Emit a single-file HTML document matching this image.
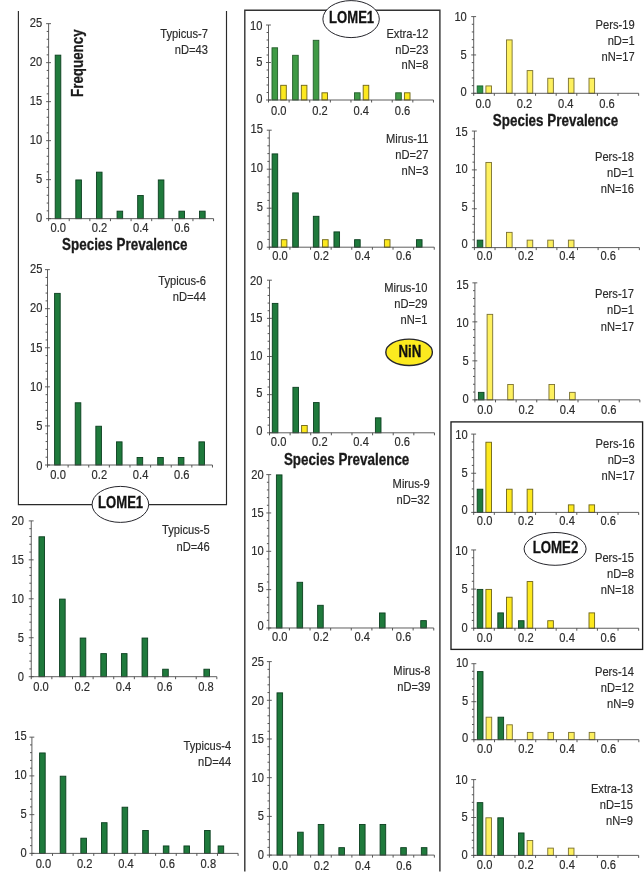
<!DOCTYPE html>
<html lang="en"><head><meta charset="utf-8"><title>Species prevalence histograms</title>
<style>
html,body{margin:0;padding:0;background:#fff}
body{width:644px;height:883px;overflow:hidden}
svg{display:block;font-family:"Liberation Sans",Arial,Helvetica,sans-serif}
</style></head><body>
<svg width="644" height="883" viewBox="0 0 644 883">
<rect width="644" height="883" fill="#fff"/>
<g transform="translate(0,0.4)">
<path d="M18.4 10.6V504.3H226.5V10.6" fill="none" stroke="#2a2a2a" stroke-width="1.15"/>
<path d="M244.8 871V9.9H439.9V871" fill="none" stroke="#333" stroke-width="1.4"/>
<rect x="451" y="421.5" width="191.6" height="227.5" fill="none" stroke="#1e1e1e" stroke-width="1.35"/>
<g>
<rect x="55.20" y="54.75" width="5.60" height="163.50" fill="#1f7a3c" stroke="#0b3f1f" stroke-width="0.9"/>
<rect x="75.82" y="179.55" width="5.60" height="38.70" fill="#1f7a3c" stroke="#0b3f1f" stroke-width="0.9"/>
<rect x="96.44" y="171.75" width="5.60" height="46.50" fill="#1f7a3c" stroke="#0b3f1f" stroke-width="0.9"/>
<rect x="117.06" y="210.75" width="5.60" height="7.50" fill="#1f7a3c" stroke="#0b3f1f" stroke-width="0.9"/>
<rect x="137.68" y="195.15" width="5.60" height="23.10" fill="#1f7a3c" stroke="#0b3f1f" stroke-width="0.9"/>
<rect x="158.30" y="179.55" width="5.60" height="38.70" fill="#1f7a3c" stroke="#0b3f1f" stroke-width="0.9"/>
<rect x="178.92" y="210.75" width="5.60" height="7.50" fill="#1f7a3c" stroke="#0b3f1f" stroke-width="0.9"/>
<rect x="199.54" y="210.75" width="5.60" height="7.50" fill="#1f7a3c" stroke="#0b3f1f" stroke-width="0.9"/>
<line x1="48.60" y1="23.25" x2="48.60" y2="218.70" stroke="#4d4d4d" stroke-width="0.9"/>
<line x1="48.15" y1="218.25" x2="213.56" y2="218.25" stroke="#4d4d4d" stroke-width="0.9"/>
<line x1="46.10" y1="218.25" x2="51.00" y2="218.25" stroke="#4d4d4d" stroke-width="0.9"/>
<text transform="translate(42.20,221.90) scale(0.82,1)" text-anchor="end" font-size="13.6" stroke="#2b2b2b" stroke-width="0.18" fill="#2b2b2b">0</text>
<line x1="46.70" y1="210.45" x2="48.60" y2="210.45" stroke="#4d4d4d" stroke-width="0.95"/>
<line x1="46.70" y1="202.65" x2="48.60" y2="202.65" stroke="#4d4d4d" stroke-width="0.95"/>
<line x1="46.70" y1="194.85" x2="48.60" y2="194.85" stroke="#4d4d4d" stroke-width="0.95"/>
<line x1="46.70" y1="187.05" x2="48.60" y2="187.05" stroke="#4d4d4d" stroke-width="0.95"/>
<line x1="46.10" y1="179.25" x2="51.00" y2="179.25" stroke="#4d4d4d" stroke-width="0.9"/>
<text transform="translate(42.20,182.84) scale(0.82,1)" text-anchor="end" font-size="13.6" stroke="#2b2b2b" stroke-width="0.18" fill="#2b2b2b">5</text>
<line x1="46.70" y1="171.45" x2="48.60" y2="171.45" stroke="#4d4d4d" stroke-width="0.95"/>
<line x1="46.70" y1="163.65" x2="48.60" y2="163.65" stroke="#4d4d4d" stroke-width="0.95"/>
<line x1="46.70" y1="155.85" x2="48.60" y2="155.85" stroke="#4d4d4d" stroke-width="0.95"/>
<line x1="46.70" y1="148.05" x2="48.60" y2="148.05" stroke="#4d4d4d" stroke-width="0.95"/>
<line x1="46.10" y1="140.25" x2="51.00" y2="140.25" stroke="#4d4d4d" stroke-width="0.9"/>
<text transform="translate(42.20,143.78) scale(0.82,1)" text-anchor="end" font-size="13.6" stroke="#2b2b2b" stroke-width="0.18" fill="#2b2b2b">10</text>
<line x1="46.70" y1="132.45" x2="48.60" y2="132.45" stroke="#4d4d4d" stroke-width="0.95"/>
<line x1="46.70" y1="124.65" x2="48.60" y2="124.65" stroke="#4d4d4d" stroke-width="0.95"/>
<line x1="46.70" y1="116.85" x2="48.60" y2="116.85" stroke="#4d4d4d" stroke-width="0.95"/>
<line x1="46.70" y1="109.05" x2="48.60" y2="109.05" stroke="#4d4d4d" stroke-width="0.95"/>
<line x1="46.10" y1="101.25" x2="51.00" y2="101.25" stroke="#4d4d4d" stroke-width="0.9"/>
<text transform="translate(42.20,104.72) scale(0.82,1)" text-anchor="end" font-size="13.6" stroke="#2b2b2b" stroke-width="0.18" fill="#2b2b2b">15</text>
<line x1="46.70" y1="93.45" x2="48.60" y2="93.45" stroke="#4d4d4d" stroke-width="0.95"/>
<line x1="46.70" y1="85.65" x2="48.60" y2="85.65" stroke="#4d4d4d" stroke-width="0.95"/>
<line x1="46.70" y1="77.85" x2="48.60" y2="77.85" stroke="#4d4d4d" stroke-width="0.95"/>
<line x1="46.70" y1="70.05" x2="48.60" y2="70.05" stroke="#4d4d4d" stroke-width="0.95"/>
<line x1="46.10" y1="62.25" x2="51.00" y2="62.25" stroke="#4d4d4d" stroke-width="0.9"/>
<text transform="translate(42.20,65.66) scale(0.82,1)" text-anchor="end" font-size="13.6" stroke="#2b2b2b" stroke-width="0.18" fill="#2b2b2b">20</text>
<line x1="46.70" y1="54.45" x2="48.60" y2="54.45" stroke="#4d4d4d" stroke-width="0.95"/>
<line x1="46.70" y1="46.65" x2="48.60" y2="46.65" stroke="#4d4d4d" stroke-width="0.95"/>
<line x1="46.70" y1="38.85" x2="48.60" y2="38.85" stroke="#4d4d4d" stroke-width="0.95"/>
<line x1="46.70" y1="31.05" x2="48.60" y2="31.05" stroke="#4d4d4d" stroke-width="0.95"/>
<line x1="46.10" y1="23.25" x2="51.00" y2="23.25" stroke="#4d4d4d" stroke-width="0.9"/>
<text transform="translate(42.20,26.60) scale(0.82,1)" text-anchor="end" font-size="13.6" stroke="#2b2b2b" stroke-width="0.18" fill="#2b2b2b">25</text>
<line x1="48.60" y1="218.25" x2="48.60" y2="220.75" stroke="#4d4d4d" stroke-width="0.95"/>
<line x1="69.22" y1="218.25" x2="69.22" y2="220.75" stroke="#4d4d4d" stroke-width="0.95"/>
<line x1="89.84" y1="218.25" x2="89.84" y2="220.75" stroke="#4d4d4d" stroke-width="0.95"/>
<line x1="110.46" y1="218.25" x2="110.46" y2="220.75" stroke="#4d4d4d" stroke-width="0.95"/>
<line x1="131.08" y1="218.25" x2="131.08" y2="220.75" stroke="#4d4d4d" stroke-width="0.95"/>
<line x1="151.70" y1="218.25" x2="151.70" y2="220.75" stroke="#4d4d4d" stroke-width="0.95"/>
<line x1="172.32" y1="218.25" x2="172.32" y2="220.75" stroke="#4d4d4d" stroke-width="0.95"/>
<line x1="192.94" y1="218.25" x2="192.94" y2="220.75" stroke="#4d4d4d" stroke-width="0.95"/>
<line x1="213.56" y1="218.25" x2="213.56" y2="220.75" stroke="#4d4d4d" stroke-width="0.95"/>
<text transform="translate(58.21,231.35) scale(0.82,1)" text-anchor="middle" font-size="13.6" stroke="#2b2b2b" stroke-width="0.18" fill="#2b2b2b">0.0</text>
<text transform="translate(99.45,231.35) scale(0.82,1)" text-anchor="middle" font-size="13.6" stroke="#2b2b2b" stroke-width="0.18" fill="#2b2b2b">0.2</text>
<text transform="translate(140.69,231.35) scale(0.82,1)" text-anchor="middle" font-size="13.6" stroke="#2b2b2b" stroke-width="0.18" fill="#2b2b2b">0.4</text>
<text transform="translate(181.93,231.35) scale(0.82,1)" text-anchor="middle" font-size="13.6" stroke="#2b2b2b" stroke-width="0.18" fill="#2b2b2b">0.6</text>
<text transform="translate(208.00,37.20) scale(0.82,1)" text-anchor="end" font-size="13.6" stroke="#2b2b2b" stroke-width="0.18" fill="#2b2b2b">Typicus-7</text>
<text transform="translate(208.00,53.45) scale(0.82,1)" text-anchor="end" font-size="13.6" stroke="#2b2b2b" stroke-width="0.18" fill="#2b2b2b">nD=43</text>
</g>
<g>
<rect x="54.60" y="292.97" width="5.60" height="171.63" fill="#1f7a3c" stroke="#0b3f1f" stroke-width="0.9"/>
<rect x="75.22" y="402.38" width="5.60" height="62.22" fill="#1f7a3c" stroke="#0b3f1f" stroke-width="0.9"/>
<rect x="95.84" y="425.83" width="5.60" height="38.77" fill="#1f7a3c" stroke="#0b3f1f" stroke-width="0.9"/>
<rect x="116.46" y="441.46" width="5.60" height="23.14" fill="#1f7a3c" stroke="#0b3f1f" stroke-width="0.9"/>
<rect x="137.08" y="457.09" width="5.60" height="7.51" fill="#1f7a3c" stroke="#0b3f1f" stroke-width="0.9"/>
<rect x="157.70" y="457.09" width="5.60" height="7.51" fill="#1f7a3c" stroke="#0b3f1f" stroke-width="0.9"/>
<rect x="178.32" y="457.09" width="5.60" height="7.51" fill="#1f7a3c" stroke="#0b3f1f" stroke-width="0.9"/>
<rect x="198.94" y="441.46" width="5.60" height="23.14" fill="#1f7a3c" stroke="#0b3f1f" stroke-width="0.9"/>
<line x1="47.50" y1="269.23" x2="47.50" y2="465.05" stroke="#4d4d4d" stroke-width="0.9"/>
<line x1="47.05" y1="464.60" x2="212.46" y2="464.60" stroke="#4d4d4d" stroke-width="0.9"/>
<line x1="45.00" y1="464.60" x2="49.90" y2="464.60" stroke="#4d4d4d" stroke-width="0.9"/>
<text transform="translate(42.50,469.45) scale(0.82,1)" text-anchor="end" font-size="13.6" stroke="#2b2b2b" stroke-width="0.18" fill="#2b2b2b">0</text>
<line x1="45.60" y1="456.79" x2="47.50" y2="456.79" stroke="#4d4d4d" stroke-width="0.95"/>
<line x1="45.60" y1="448.97" x2="47.50" y2="448.97" stroke="#4d4d4d" stroke-width="0.95"/>
<line x1="45.60" y1="441.16" x2="47.50" y2="441.16" stroke="#4d4d4d" stroke-width="0.95"/>
<line x1="45.60" y1="433.34" x2="47.50" y2="433.34" stroke="#4d4d4d" stroke-width="0.95"/>
<line x1="45.00" y1="425.53" x2="49.90" y2="425.53" stroke="#4d4d4d" stroke-width="0.9"/>
<text transform="translate(42.50,430.06) scale(0.82,1)" text-anchor="end" font-size="13.6" stroke="#2b2b2b" stroke-width="0.18" fill="#2b2b2b">5</text>
<line x1="45.60" y1="417.71" x2="47.50" y2="417.71" stroke="#4d4d4d" stroke-width="0.95"/>
<line x1="45.60" y1="409.90" x2="47.50" y2="409.90" stroke="#4d4d4d" stroke-width="0.95"/>
<line x1="45.60" y1="402.08" x2="47.50" y2="402.08" stroke="#4d4d4d" stroke-width="0.95"/>
<line x1="45.60" y1="394.26" x2="47.50" y2="394.26" stroke="#4d4d4d" stroke-width="0.95"/>
<line x1="45.00" y1="386.45" x2="49.90" y2="386.45" stroke="#4d4d4d" stroke-width="0.9"/>
<text transform="translate(42.50,390.66) scale(0.82,1)" text-anchor="end" font-size="13.6" stroke="#2b2b2b" stroke-width="0.18" fill="#2b2b2b">10</text>
<line x1="45.60" y1="378.63" x2="47.50" y2="378.63" stroke="#4d4d4d" stroke-width="0.95"/>
<line x1="45.60" y1="370.82" x2="47.50" y2="370.82" stroke="#4d4d4d" stroke-width="0.95"/>
<line x1="45.60" y1="363.00" x2="47.50" y2="363.00" stroke="#4d4d4d" stroke-width="0.95"/>
<line x1="45.60" y1="355.19" x2="47.50" y2="355.19" stroke="#4d4d4d" stroke-width="0.95"/>
<line x1="45.00" y1="347.38" x2="49.90" y2="347.38" stroke="#4d4d4d" stroke-width="0.9"/>
<text transform="translate(42.50,351.27) scale(0.82,1)" text-anchor="end" font-size="13.6" stroke="#2b2b2b" stroke-width="0.18" fill="#2b2b2b">15</text>
<line x1="45.60" y1="339.56" x2="47.50" y2="339.56" stroke="#4d4d4d" stroke-width="0.95"/>
<line x1="45.60" y1="331.75" x2="47.50" y2="331.75" stroke="#4d4d4d" stroke-width="0.95"/>
<line x1="45.60" y1="323.93" x2="47.50" y2="323.93" stroke="#4d4d4d" stroke-width="0.95"/>
<line x1="45.60" y1="316.12" x2="47.50" y2="316.12" stroke="#4d4d4d" stroke-width="0.95"/>
<line x1="45.00" y1="308.30" x2="49.90" y2="308.30" stroke="#4d4d4d" stroke-width="0.9"/>
<text transform="translate(42.50,311.87) scale(0.82,1)" text-anchor="end" font-size="13.6" stroke="#2b2b2b" stroke-width="0.18" fill="#2b2b2b">20</text>
<line x1="45.60" y1="300.49" x2="47.50" y2="300.49" stroke="#4d4d4d" stroke-width="0.95"/>
<line x1="45.60" y1="292.67" x2="47.50" y2="292.67" stroke="#4d4d4d" stroke-width="0.95"/>
<line x1="45.60" y1="284.86" x2="47.50" y2="284.86" stroke="#4d4d4d" stroke-width="0.95"/>
<line x1="45.60" y1="277.04" x2="47.50" y2="277.04" stroke="#4d4d4d" stroke-width="0.95"/>
<line x1="45.00" y1="269.23" x2="49.90" y2="269.23" stroke="#4d4d4d" stroke-width="0.9"/>
<text transform="translate(42.50,272.48) scale(0.82,1)" text-anchor="end" font-size="13.6" stroke="#2b2b2b" stroke-width="0.18" fill="#2b2b2b">25</text>
<line x1="47.50" y1="464.60" x2="47.50" y2="467.10" stroke="#4d4d4d" stroke-width="0.95"/>
<line x1="68.12" y1="464.60" x2="68.12" y2="467.10" stroke="#4d4d4d" stroke-width="0.95"/>
<line x1="88.74" y1="464.60" x2="88.74" y2="467.10" stroke="#4d4d4d" stroke-width="0.95"/>
<line x1="109.36" y1="464.60" x2="109.36" y2="467.10" stroke="#4d4d4d" stroke-width="0.95"/>
<line x1="129.98" y1="464.60" x2="129.98" y2="467.10" stroke="#4d4d4d" stroke-width="0.95"/>
<line x1="150.60" y1="464.60" x2="150.60" y2="467.10" stroke="#4d4d4d" stroke-width="0.95"/>
<line x1="171.22" y1="464.60" x2="171.22" y2="467.10" stroke="#4d4d4d" stroke-width="0.95"/>
<line x1="191.84" y1="464.60" x2="191.84" y2="467.10" stroke="#4d4d4d" stroke-width="0.95"/>
<line x1="212.46" y1="464.60" x2="212.46" y2="467.10" stroke="#4d4d4d" stroke-width="0.95"/>
<text transform="translate(58.11,478.20) scale(0.82,1)" text-anchor="middle" font-size="13.6" stroke="#2b2b2b" stroke-width="0.18" fill="#2b2b2b">0.0</text>
<text transform="translate(99.35,478.20) scale(0.82,1)" text-anchor="middle" font-size="13.6" stroke="#2b2b2b" stroke-width="0.18" fill="#2b2b2b">0.2</text>
<text transform="translate(140.59,478.20) scale(0.82,1)" text-anchor="middle" font-size="13.6" stroke="#2b2b2b" stroke-width="0.18" fill="#2b2b2b">0.4</text>
<text transform="translate(181.83,478.20) scale(0.82,1)" text-anchor="middle" font-size="13.6" stroke="#2b2b2b" stroke-width="0.18" fill="#2b2b2b">0.6</text>
<text transform="translate(206.00,284.45) scale(0.82,1)" text-anchor="end" font-size="13.6" stroke="#2b2b2b" stroke-width="0.18" fill="#2b2b2b">Typicus-6</text>
<text transform="translate(206.00,300.20) scale(0.82,1)" text-anchor="end" font-size="13.6" stroke="#2b2b2b" stroke-width="0.18" fill="#2b2b2b">nD=44</text>
</g>
<g>
<rect x="38.95" y="536.38" width="5.60" height="139.92" fill="#1f7a3c" stroke="#0b3f1f" stroke-width="0.9"/>
<rect x="59.57" y="598.70" width="5.60" height="77.60" fill="#1f7a3c" stroke="#0b3f1f" stroke-width="0.9"/>
<rect x="80.19" y="637.65" width="5.60" height="38.65" fill="#1f7a3c" stroke="#0b3f1f" stroke-width="0.9"/>
<rect x="100.81" y="653.23" width="5.60" height="23.07" fill="#1f7a3c" stroke="#0b3f1f" stroke-width="0.9"/>
<rect x="121.43" y="653.23" width="5.60" height="23.07" fill="#1f7a3c" stroke="#0b3f1f" stroke-width="0.9"/>
<rect x="142.05" y="637.65" width="5.60" height="38.65" fill="#1f7a3c" stroke="#0b3f1f" stroke-width="0.9"/>
<rect x="162.67" y="668.81" width="5.60" height="7.49" fill="#1f7a3c" stroke="#0b3f1f" stroke-width="0.9"/>
<rect x="203.91" y="668.81" width="5.60" height="7.49" fill="#1f7a3c" stroke="#0b3f1f" stroke-width="0.9"/>
<line x1="31.25" y1="520.50" x2="31.25" y2="676.75" stroke="#4d4d4d" stroke-width="0.9"/>
<line x1="30.80" y1="676.30" x2="216.83" y2="676.30" stroke="#4d4d4d" stroke-width="0.9"/>
<line x1="28.75" y1="676.30" x2="33.65" y2="676.30" stroke="#4d4d4d" stroke-width="0.9"/>
<text transform="translate(23.95,680.35) scale(0.82,1)" text-anchor="end" font-size="13.6" stroke="#2b2b2b" stroke-width="0.18" fill="#2b2b2b">0</text>
<line x1="29.35" y1="668.51" x2="31.25" y2="668.51" stroke="#4d4d4d" stroke-width="0.95"/>
<line x1="29.35" y1="660.72" x2="31.25" y2="660.72" stroke="#4d4d4d" stroke-width="0.95"/>
<line x1="29.35" y1="652.93" x2="31.25" y2="652.93" stroke="#4d4d4d" stroke-width="0.95"/>
<line x1="29.35" y1="645.14" x2="31.25" y2="645.14" stroke="#4d4d4d" stroke-width="0.95"/>
<line x1="28.75" y1="637.35" x2="33.65" y2="637.35" stroke="#4d4d4d" stroke-width="0.9"/>
<text transform="translate(23.95,641.40) scale(0.82,1)" text-anchor="end" font-size="13.6" stroke="#2b2b2b" stroke-width="0.18" fill="#2b2b2b">5</text>
<line x1="29.35" y1="629.56" x2="31.25" y2="629.56" stroke="#4d4d4d" stroke-width="0.95"/>
<line x1="29.35" y1="621.77" x2="31.25" y2="621.77" stroke="#4d4d4d" stroke-width="0.95"/>
<line x1="29.35" y1="613.98" x2="31.25" y2="613.98" stroke="#4d4d4d" stroke-width="0.95"/>
<line x1="29.35" y1="606.19" x2="31.25" y2="606.19" stroke="#4d4d4d" stroke-width="0.95"/>
<line x1="28.75" y1="598.40" x2="33.65" y2="598.40" stroke="#4d4d4d" stroke-width="0.9"/>
<text transform="translate(23.95,602.45) scale(0.82,1)" text-anchor="end" font-size="13.6" stroke="#2b2b2b" stroke-width="0.18" fill="#2b2b2b">10</text>
<line x1="29.35" y1="590.61" x2="31.25" y2="590.61" stroke="#4d4d4d" stroke-width="0.95"/>
<line x1="29.35" y1="582.82" x2="31.25" y2="582.82" stroke="#4d4d4d" stroke-width="0.95"/>
<line x1="29.35" y1="575.03" x2="31.25" y2="575.03" stroke="#4d4d4d" stroke-width="0.95"/>
<line x1="29.35" y1="567.24" x2="31.25" y2="567.24" stroke="#4d4d4d" stroke-width="0.95"/>
<line x1="28.75" y1="559.45" x2="33.65" y2="559.45" stroke="#4d4d4d" stroke-width="0.9"/>
<text transform="translate(23.95,563.50) scale(0.82,1)" text-anchor="end" font-size="13.6" stroke="#2b2b2b" stroke-width="0.18" fill="#2b2b2b">15</text>
<line x1="29.35" y1="551.66" x2="31.25" y2="551.66" stroke="#4d4d4d" stroke-width="0.95"/>
<line x1="29.35" y1="543.87" x2="31.25" y2="543.87" stroke="#4d4d4d" stroke-width="0.95"/>
<line x1="29.35" y1="536.08" x2="31.25" y2="536.08" stroke="#4d4d4d" stroke-width="0.95"/>
<line x1="29.35" y1="528.29" x2="31.25" y2="528.29" stroke="#4d4d4d" stroke-width="0.95"/>
<line x1="28.75" y1="520.50" x2="33.65" y2="520.50" stroke="#4d4d4d" stroke-width="0.9"/>
<text transform="translate(23.95,524.55) scale(0.82,1)" text-anchor="end" font-size="13.6" stroke="#2b2b2b" stroke-width="0.18" fill="#2b2b2b">20</text>
<line x1="31.25" y1="676.30" x2="31.25" y2="678.80" stroke="#4d4d4d" stroke-width="0.95"/>
<line x1="51.87" y1="676.30" x2="51.87" y2="678.80" stroke="#4d4d4d" stroke-width="0.95"/>
<line x1="72.49" y1="676.30" x2="72.49" y2="678.80" stroke="#4d4d4d" stroke-width="0.95"/>
<line x1="93.11" y1="676.30" x2="93.11" y2="678.80" stroke="#4d4d4d" stroke-width="0.95"/>
<line x1="113.73" y1="676.30" x2="113.73" y2="678.80" stroke="#4d4d4d" stroke-width="0.95"/>
<line x1="134.35" y1="676.30" x2="134.35" y2="678.80" stroke="#4d4d4d" stroke-width="0.95"/>
<line x1="154.97" y1="676.30" x2="154.97" y2="678.80" stroke="#4d4d4d" stroke-width="0.95"/>
<line x1="175.59" y1="676.30" x2="175.59" y2="678.80" stroke="#4d4d4d" stroke-width="0.95"/>
<line x1="196.21" y1="676.30" x2="196.21" y2="678.80" stroke="#4d4d4d" stroke-width="0.95"/>
<line x1="216.83" y1="676.30" x2="216.83" y2="678.80" stroke="#4d4d4d" stroke-width="0.95"/>
<text transform="translate(40.96,690.60) scale(0.82,1)" text-anchor="middle" font-size="13.6" stroke="#2b2b2b" stroke-width="0.18" fill="#2b2b2b">0.0</text>
<text transform="translate(82.20,690.60) scale(0.82,1)" text-anchor="middle" font-size="13.6" stroke="#2b2b2b" stroke-width="0.18" fill="#2b2b2b">0.2</text>
<text transform="translate(123.44,690.60) scale(0.82,1)" text-anchor="middle" font-size="13.6" stroke="#2b2b2b" stroke-width="0.18" fill="#2b2b2b">0.4</text>
<text transform="translate(164.68,690.60) scale(0.82,1)" text-anchor="middle" font-size="13.6" stroke="#2b2b2b" stroke-width="0.18" fill="#2b2b2b">0.6</text>
<text transform="translate(205.92,690.60) scale(0.82,1)" text-anchor="middle" font-size="13.6" stroke="#2b2b2b" stroke-width="0.18" fill="#2b2b2b">0.8</text>
<text transform="translate(209.75,533.95) scale(0.82,1)" text-anchor="end" font-size="13.6" stroke="#2b2b2b" stroke-width="0.18" fill="#2b2b2b">Typicus-5</text>
<text transform="translate(209.75,550.20) scale(0.82,1)" text-anchor="end" font-size="13.6" stroke="#2b2b2b" stroke-width="0.18" fill="#2b2b2b">nD=46</text>
</g>
<g>
<rect x="39.60" y="752.55" width="5.60" height="100.45" fill="#1f7a3c" stroke="#0b3f1f" stroke-width="0.9"/>
<rect x="60.22" y="775.80" width="5.60" height="77.20" fill="#1f7a3c" stroke="#0b3f1f" stroke-width="0.9"/>
<rect x="80.84" y="837.80" width="5.60" height="15.20" fill="#1f7a3c" stroke="#0b3f1f" stroke-width="0.9"/>
<rect x="101.46" y="822.30" width="5.60" height="30.70" fill="#1f7a3c" stroke="#0b3f1f" stroke-width="0.9"/>
<rect x="122.08" y="806.80" width="5.60" height="46.20" fill="#1f7a3c" stroke="#0b3f1f" stroke-width="0.9"/>
<rect x="142.70" y="830.05" width="5.60" height="22.95" fill="#1f7a3c" stroke="#0b3f1f" stroke-width="0.9"/>
<rect x="163.32" y="845.55" width="5.60" height="7.45" fill="#1f7a3c" stroke="#0b3f1f" stroke-width="0.9"/>
<rect x="183.94" y="845.55" width="5.60" height="7.45" fill="#1f7a3c" stroke="#0b3f1f" stroke-width="0.9"/>
<rect x="204.56" y="830.05" width="5.60" height="22.95" fill="#1f7a3c" stroke="#0b3f1f" stroke-width="0.9"/>
<rect x="218.10" y="845.55" width="5.60" height="7.45" fill="#1f7a3c" stroke="#0b3f1f" stroke-width="0.9"/>
<line x1="31.90" y1="736.75" x2="31.90" y2="853.45" stroke="#4d4d4d" stroke-width="0.9"/>
<line x1="31.45" y1="853.00" x2="238.10" y2="853.00" stroke="#4d4d4d" stroke-width="0.9"/>
<line x1="29.40" y1="853.00" x2="34.30" y2="853.00" stroke="#4d4d4d" stroke-width="0.9"/>
<text transform="translate(26.60,856.85) scale(0.82,1)" text-anchor="end" font-size="13.6" stroke="#2b2b2b" stroke-width="0.18" fill="#2b2b2b">0</text>
<line x1="30.00" y1="845.25" x2="31.90" y2="845.25" stroke="#4d4d4d" stroke-width="0.95"/>
<line x1="30.00" y1="837.50" x2="31.90" y2="837.50" stroke="#4d4d4d" stroke-width="0.95"/>
<line x1="30.00" y1="829.75" x2="31.90" y2="829.75" stroke="#4d4d4d" stroke-width="0.95"/>
<line x1="30.00" y1="822.00" x2="31.90" y2="822.00" stroke="#4d4d4d" stroke-width="0.95"/>
<line x1="29.40" y1="814.25" x2="34.30" y2="814.25" stroke="#4d4d4d" stroke-width="0.9"/>
<text transform="translate(26.60,817.77) scale(0.82,1)" text-anchor="end" font-size="13.6" stroke="#2b2b2b" stroke-width="0.18" fill="#2b2b2b">5</text>
<line x1="30.00" y1="806.50" x2="31.90" y2="806.50" stroke="#4d4d4d" stroke-width="0.95"/>
<line x1="30.00" y1="798.75" x2="31.90" y2="798.75" stroke="#4d4d4d" stroke-width="0.95"/>
<line x1="30.00" y1="791.00" x2="31.90" y2="791.00" stroke="#4d4d4d" stroke-width="0.95"/>
<line x1="30.00" y1="783.25" x2="31.90" y2="783.25" stroke="#4d4d4d" stroke-width="0.95"/>
<line x1="29.40" y1="775.50" x2="34.30" y2="775.50" stroke="#4d4d4d" stroke-width="0.9"/>
<text transform="translate(26.60,778.68) scale(0.82,1)" text-anchor="end" font-size="13.6" stroke="#2b2b2b" stroke-width="0.18" fill="#2b2b2b">10</text>
<line x1="30.00" y1="767.75" x2="31.90" y2="767.75" stroke="#4d4d4d" stroke-width="0.95"/>
<line x1="30.00" y1="760.00" x2="31.90" y2="760.00" stroke="#4d4d4d" stroke-width="0.95"/>
<line x1="30.00" y1="752.25" x2="31.90" y2="752.25" stroke="#4d4d4d" stroke-width="0.95"/>
<line x1="30.00" y1="744.50" x2="31.90" y2="744.50" stroke="#4d4d4d" stroke-width="0.95"/>
<line x1="29.40" y1="736.75" x2="34.30" y2="736.75" stroke="#4d4d4d" stroke-width="0.9"/>
<text transform="translate(26.60,739.60) scale(0.82,1)" text-anchor="end" font-size="13.6" stroke="#2b2b2b" stroke-width="0.18" fill="#2b2b2b">15</text>
<line x1="31.90" y1="853.00" x2="31.90" y2="855.50" stroke="#4d4d4d" stroke-width="0.95"/>
<line x1="52.52" y1="853.00" x2="52.52" y2="855.50" stroke="#4d4d4d" stroke-width="0.95"/>
<line x1="73.14" y1="853.00" x2="73.14" y2="855.50" stroke="#4d4d4d" stroke-width="0.95"/>
<line x1="93.76" y1="853.00" x2="93.76" y2="855.50" stroke="#4d4d4d" stroke-width="0.95"/>
<line x1="114.38" y1="853.00" x2="114.38" y2="855.50" stroke="#4d4d4d" stroke-width="0.95"/>
<line x1="135.00" y1="853.00" x2="135.00" y2="855.50" stroke="#4d4d4d" stroke-width="0.95"/>
<line x1="155.62" y1="853.00" x2="155.62" y2="855.50" stroke="#4d4d4d" stroke-width="0.95"/>
<line x1="176.24" y1="853.00" x2="176.24" y2="855.50" stroke="#4d4d4d" stroke-width="0.95"/>
<line x1="196.86" y1="853.00" x2="196.86" y2="855.50" stroke="#4d4d4d" stroke-width="0.95"/>
<line x1="217.48" y1="853.00" x2="217.48" y2="855.50" stroke="#4d4d4d" stroke-width="0.95"/>
<line x1="238.10" y1="853.00" x2="238.10" y2="855.50" stroke="#4d4d4d" stroke-width="0.95"/>
<text transform="translate(43.41,867.70) scale(0.82,1)" text-anchor="middle" font-size="13.6" stroke="#2b2b2b" stroke-width="0.18" fill="#2b2b2b">0.0</text>
<text transform="translate(84.65,867.70) scale(0.82,1)" text-anchor="middle" font-size="13.6" stroke="#2b2b2b" stroke-width="0.18" fill="#2b2b2b">0.2</text>
<text transform="translate(125.89,867.70) scale(0.82,1)" text-anchor="middle" font-size="13.6" stroke="#2b2b2b" stroke-width="0.18" fill="#2b2b2b">0.4</text>
<text transform="translate(167.13,867.70) scale(0.82,1)" text-anchor="middle" font-size="13.6" stroke="#2b2b2b" stroke-width="0.18" fill="#2b2b2b">0.6</text>
<text transform="translate(208.37,867.70) scale(0.82,1)" text-anchor="middle" font-size="13.6" stroke="#2b2b2b" stroke-width="0.18" fill="#2b2b2b">0.8</text>
<text transform="translate(231.25,749.45) scale(0.82,1)" text-anchor="end" font-size="13.6" stroke="#2b2b2b" stroke-width="0.18" fill="#2b2b2b">Typicus-4</text>
<text transform="translate(231.25,765.70) scale(0.82,1)" text-anchor="end" font-size="13.6" stroke="#2b2b2b" stroke-width="0.18" fill="#2b2b2b">nD=44</text>
</g>
<g>
<rect x="272.00" y="47.40" width="5.60" height="52.20" fill="#3f9a45" stroke="#235c2a" stroke-width="0.9"/>
<rect x="292.62" y="54.90" width="5.60" height="44.70" fill="#3f9a45" stroke="#235c2a" stroke-width="0.9"/>
<rect x="313.24" y="39.90" width="5.60" height="59.70" fill="#3f9a45" stroke="#235c2a" stroke-width="0.9"/>
<rect x="354.48" y="92.40" width="5.60" height="7.20" fill="#3f9a45" stroke="#235c2a" stroke-width="0.9"/>
<rect x="395.72" y="92.40" width="5.60" height="7.20" fill="#3f9a45" stroke="#235c2a" stroke-width="0.9"/>
<rect x="280.70" y="84.90" width="5.60" height="14.70" fill="#fce81e" stroke="#6e6415" stroke-width="0.9"/>
<rect x="301.32" y="84.90" width="5.60" height="14.70" fill="#fce81e" stroke="#6e6415" stroke-width="0.9"/>
<rect x="321.94" y="92.40" width="5.60" height="7.20" fill="#fce81e" stroke="#6e6415" stroke-width="0.9"/>
<rect x="363.18" y="84.90" width="5.60" height="14.70" fill="#fce81e" stroke="#6e6415" stroke-width="0.9"/>
<rect x="404.42" y="92.40" width="5.60" height="7.20" fill="#fce81e" stroke="#6e6415" stroke-width="0.9"/>
<line x1="268.50" y1="24.60" x2="268.50" y2="100.05" stroke="#4d4d4d" stroke-width="0.9"/>
<line x1="268.05" y1="99.60" x2="433.46" y2="99.60" stroke="#4d4d4d" stroke-width="0.9"/>
<line x1="266.00" y1="99.60" x2="270.90" y2="99.60" stroke="#4d4d4d" stroke-width="0.9"/>
<text transform="translate(262.50,102.95) scale(0.82,1)" text-anchor="end" font-size="13.6" stroke="#2b2b2b" stroke-width="0.18" fill="#2b2b2b">0</text>
<line x1="266.60" y1="92.10" x2="268.50" y2="92.10" stroke="#4d4d4d" stroke-width="0.95"/>
<line x1="266.60" y1="84.60" x2="268.50" y2="84.60" stroke="#4d4d4d" stroke-width="0.95"/>
<line x1="266.60" y1="77.10" x2="268.50" y2="77.10" stroke="#4d4d4d" stroke-width="0.95"/>
<line x1="266.60" y1="69.60" x2="268.50" y2="69.60" stroke="#4d4d4d" stroke-width="0.95"/>
<line x1="266.00" y1="62.10" x2="270.90" y2="62.10" stroke="#4d4d4d" stroke-width="0.9"/>
<text transform="translate(262.50,66.05) scale(0.82,1)" text-anchor="end" font-size="13.6" stroke="#2b2b2b" stroke-width="0.18" fill="#2b2b2b">5</text>
<line x1="266.60" y1="54.60" x2="268.50" y2="54.60" stroke="#4d4d4d" stroke-width="0.95"/>
<line x1="266.60" y1="47.10" x2="268.50" y2="47.10" stroke="#4d4d4d" stroke-width="0.95"/>
<line x1="266.60" y1="39.60" x2="268.50" y2="39.60" stroke="#4d4d4d" stroke-width="0.95"/>
<line x1="266.60" y1="32.10" x2="268.50" y2="32.10" stroke="#4d4d4d" stroke-width="0.95"/>
<line x1="266.00" y1="24.60" x2="270.90" y2="24.60" stroke="#4d4d4d" stroke-width="0.9"/>
<text transform="translate(262.50,29.15) scale(0.82,1)" text-anchor="end" font-size="13.6" stroke="#2b2b2b" stroke-width="0.18" fill="#2b2b2b">10</text>
<line x1="268.50" y1="99.60" x2="268.50" y2="102.10" stroke="#4d4d4d" stroke-width="0.95"/>
<line x1="289.12" y1="99.60" x2="289.12" y2="102.10" stroke="#4d4d4d" stroke-width="0.95"/>
<line x1="309.74" y1="99.60" x2="309.74" y2="102.10" stroke="#4d4d4d" stroke-width="0.95"/>
<line x1="330.36" y1="99.60" x2="330.36" y2="102.10" stroke="#4d4d4d" stroke-width="0.95"/>
<line x1="350.98" y1="99.60" x2="350.98" y2="102.10" stroke="#4d4d4d" stroke-width="0.95"/>
<line x1="371.60" y1="99.60" x2="371.60" y2="102.10" stroke="#4d4d4d" stroke-width="0.95"/>
<line x1="392.22" y1="99.60" x2="392.22" y2="102.10" stroke="#4d4d4d" stroke-width="0.95"/>
<line x1="412.84" y1="99.60" x2="412.84" y2="102.10" stroke="#4d4d4d" stroke-width="0.95"/>
<line x1="433.46" y1="99.60" x2="433.46" y2="102.10" stroke="#4d4d4d" stroke-width="0.95"/>
<text transform="translate(278.71,114.40) scale(0.82,1)" text-anchor="middle" font-size="13.6" stroke="#2b2b2b" stroke-width="0.18" fill="#2b2b2b">0.0</text>
<text transform="translate(319.95,114.40) scale(0.82,1)" text-anchor="middle" font-size="13.6" stroke="#2b2b2b" stroke-width="0.18" fill="#2b2b2b">0.2</text>
<text transform="translate(361.19,114.40) scale(0.82,1)" text-anchor="middle" font-size="13.6" stroke="#2b2b2b" stroke-width="0.18" fill="#2b2b2b">0.4</text>
<text transform="translate(402.43,114.40) scale(0.82,1)" text-anchor="middle" font-size="13.6" stroke="#2b2b2b" stroke-width="0.18" fill="#2b2b2b">0.6</text>
<text transform="translate(428.50,37.20) scale(0.82,1)" text-anchor="end" font-size="13.6" stroke="#2b2b2b" stroke-width="0.18" fill="#2b2b2b">Extra-12</text>
<text transform="translate(428.50,53.45) scale(0.82,1)" text-anchor="end" font-size="13.6" stroke="#2b2b2b" stroke-width="0.18" fill="#2b2b2b">nD=23</text>
<text transform="translate(428.50,68.95) scale(0.82,1)" text-anchor="end" font-size="13.6" stroke="#2b2b2b" stroke-width="0.18" fill="#2b2b2b">nN=8</text>
</g>
<g>
<rect x="272.10" y="153.50" width="5.60" height="93.30" fill="#1f7a3c" stroke="#0b3f1f" stroke-width="0.9"/>
<rect x="292.72" y="192.50" width="5.60" height="54.30" fill="#1f7a3c" stroke="#0b3f1f" stroke-width="0.9"/>
<rect x="313.34" y="215.90" width="5.60" height="30.90" fill="#1f7a3c" stroke="#0b3f1f" stroke-width="0.9"/>
<rect x="333.96" y="231.50" width="5.60" height="15.30" fill="#1f7a3c" stroke="#0b3f1f" stroke-width="0.9"/>
<rect x="354.58" y="239.30" width="5.60" height="7.50" fill="#1f7a3c" stroke="#0b3f1f" stroke-width="0.9"/>
<rect x="416.44" y="239.30" width="5.60" height="7.50" fill="#1f7a3c" stroke="#0b3f1f" stroke-width="0.9"/>
<rect x="281.30" y="239.30" width="5.60" height="7.50" fill="#fce81e" stroke="#6e6415" stroke-width="0.9"/>
<rect x="322.54" y="239.30" width="5.60" height="7.50" fill="#fce81e" stroke="#6e6415" stroke-width="0.9"/>
<rect x="384.40" y="239.30" width="5.60" height="7.50" fill="#fce81e" stroke="#6e6415" stroke-width="0.9"/>
<line x1="269.30" y1="129.80" x2="269.30" y2="247.25" stroke="#4d4d4d" stroke-width="0.9"/>
<line x1="268.85" y1="246.80" x2="434.26" y2="246.80" stroke="#4d4d4d" stroke-width="0.9"/>
<line x1="266.80" y1="246.80" x2="271.70" y2="246.80" stroke="#4d4d4d" stroke-width="0.9"/>
<text transform="translate(262.90,249.45) scale(0.82,1)" text-anchor="end" font-size="13.6" stroke="#2b2b2b" stroke-width="0.18" fill="#2b2b2b">0</text>
<line x1="267.40" y1="239.00" x2="269.30" y2="239.00" stroke="#4d4d4d" stroke-width="0.95"/>
<line x1="267.40" y1="231.20" x2="269.30" y2="231.20" stroke="#4d4d4d" stroke-width="0.95"/>
<line x1="267.40" y1="223.40" x2="269.30" y2="223.40" stroke="#4d4d4d" stroke-width="0.95"/>
<line x1="267.40" y1="215.60" x2="269.30" y2="215.60" stroke="#4d4d4d" stroke-width="0.95"/>
<line x1="266.80" y1="207.80" x2="271.70" y2="207.80" stroke="#4d4d4d" stroke-width="0.9"/>
<text transform="translate(262.90,210.45) scale(0.82,1)" text-anchor="end" font-size="13.6" stroke="#2b2b2b" stroke-width="0.18" fill="#2b2b2b">5</text>
<line x1="267.40" y1="200.00" x2="269.30" y2="200.00" stroke="#4d4d4d" stroke-width="0.95"/>
<line x1="267.40" y1="192.20" x2="269.30" y2="192.20" stroke="#4d4d4d" stroke-width="0.95"/>
<line x1="267.40" y1="184.40" x2="269.30" y2="184.40" stroke="#4d4d4d" stroke-width="0.95"/>
<line x1="267.40" y1="176.60" x2="269.30" y2="176.60" stroke="#4d4d4d" stroke-width="0.95"/>
<line x1="266.80" y1="168.80" x2="271.70" y2="168.80" stroke="#4d4d4d" stroke-width="0.9"/>
<text transform="translate(262.90,171.45) scale(0.82,1)" text-anchor="end" font-size="13.6" stroke="#2b2b2b" stroke-width="0.18" fill="#2b2b2b">10</text>
<line x1="267.40" y1="161.00" x2="269.30" y2="161.00" stroke="#4d4d4d" stroke-width="0.95"/>
<line x1="267.40" y1="153.20" x2="269.30" y2="153.20" stroke="#4d4d4d" stroke-width="0.95"/>
<line x1="267.40" y1="145.40" x2="269.30" y2="145.40" stroke="#4d4d4d" stroke-width="0.95"/>
<line x1="267.40" y1="137.60" x2="269.30" y2="137.60" stroke="#4d4d4d" stroke-width="0.95"/>
<line x1="266.80" y1="129.80" x2="271.70" y2="129.80" stroke="#4d4d4d" stroke-width="0.9"/>
<text transform="translate(262.90,132.45) scale(0.82,1)" text-anchor="end" font-size="13.6" stroke="#2b2b2b" stroke-width="0.18" fill="#2b2b2b">15</text>
<line x1="269.30" y1="246.80" x2="269.30" y2="249.30" stroke="#4d4d4d" stroke-width="0.95"/>
<line x1="289.92" y1="246.80" x2="289.92" y2="249.30" stroke="#4d4d4d" stroke-width="0.95"/>
<line x1="310.54" y1="246.80" x2="310.54" y2="249.30" stroke="#4d4d4d" stroke-width="0.95"/>
<line x1="331.16" y1="246.80" x2="331.16" y2="249.30" stroke="#4d4d4d" stroke-width="0.95"/>
<line x1="351.78" y1="246.80" x2="351.78" y2="249.30" stroke="#4d4d4d" stroke-width="0.95"/>
<line x1="372.40" y1="246.80" x2="372.40" y2="249.30" stroke="#4d4d4d" stroke-width="0.95"/>
<line x1="393.02" y1="246.80" x2="393.02" y2="249.30" stroke="#4d4d4d" stroke-width="0.95"/>
<line x1="413.64" y1="246.80" x2="413.64" y2="249.30" stroke="#4d4d4d" stroke-width="0.95"/>
<line x1="434.26" y1="246.80" x2="434.26" y2="249.30" stroke="#4d4d4d" stroke-width="0.95"/>
<text transform="translate(280.01,259.20) scale(0.82,1)" text-anchor="middle" font-size="13.6" stroke="#2b2b2b" stroke-width="0.18" fill="#2b2b2b">0.0</text>
<text transform="translate(321.25,259.20) scale(0.82,1)" text-anchor="middle" font-size="13.6" stroke="#2b2b2b" stroke-width="0.18" fill="#2b2b2b">0.2</text>
<text transform="translate(362.49,259.20) scale(0.82,1)" text-anchor="middle" font-size="13.6" stroke="#2b2b2b" stroke-width="0.18" fill="#2b2b2b">0.4</text>
<text transform="translate(403.73,259.20) scale(0.82,1)" text-anchor="middle" font-size="13.6" stroke="#2b2b2b" stroke-width="0.18" fill="#2b2b2b">0.6</text>
<text transform="translate(428.50,142.70) scale(0.82,1)" text-anchor="end" font-size="13.6" stroke="#2b2b2b" stroke-width="0.18" fill="#2b2b2b">Mirus-11</text>
<text transform="translate(428.50,158.95) scale(0.82,1)" text-anchor="end" font-size="13.6" stroke="#2b2b2b" stroke-width="0.18" fill="#2b2b2b">nD=27</text>
<text transform="translate(428.50,174.45) scale(0.82,1)" text-anchor="end" font-size="13.6" stroke="#2b2b2b" stroke-width="0.18" fill="#2b2b2b">nN=3</text>
</g>
<g>
<rect x="272.30" y="302.99" width="5.60" height="129.41" fill="#1f7a3c" stroke="#0b3f1f" stroke-width="0.9"/>
<rect x="292.92" y="386.92" width="5.60" height="45.48" fill="#1f7a3c" stroke="#0b3f1f" stroke-width="0.9"/>
<rect x="313.54" y="402.18" width="5.60" height="30.22" fill="#1f7a3c" stroke="#0b3f1f" stroke-width="0.9"/>
<rect x="375.40" y="417.44" width="5.60" height="14.96" fill="#1f7a3c" stroke="#0b3f1f" stroke-width="0.9"/>
<rect x="301.62" y="425.07" width="5.60" height="7.33" fill="#fce81e" stroke="#6e6415" stroke-width="0.9"/>
<line x1="269.50" y1="279.80" x2="269.50" y2="432.85" stroke="#4d4d4d" stroke-width="0.9"/>
<line x1="269.05" y1="432.40" x2="434.46" y2="432.40" stroke="#4d4d4d" stroke-width="0.9"/>
<line x1="267.00" y1="432.40" x2="271.90" y2="432.40" stroke="#4d4d4d" stroke-width="0.9"/>
<text transform="translate(262.50,434.35) scale(0.82,1)" text-anchor="end" font-size="13.6" stroke="#2b2b2b" stroke-width="0.18" fill="#2b2b2b">0</text>
<line x1="267.60" y1="424.77" x2="269.50" y2="424.77" stroke="#4d4d4d" stroke-width="0.95"/>
<line x1="267.60" y1="417.14" x2="269.50" y2="417.14" stroke="#4d4d4d" stroke-width="0.95"/>
<line x1="267.60" y1="409.51" x2="269.50" y2="409.51" stroke="#4d4d4d" stroke-width="0.95"/>
<line x1="267.60" y1="401.88" x2="269.50" y2="401.88" stroke="#4d4d4d" stroke-width="0.95"/>
<line x1="267.00" y1="394.25" x2="271.90" y2="394.25" stroke="#4d4d4d" stroke-width="0.9"/>
<text transform="translate(262.50,396.93) scale(0.82,1)" text-anchor="end" font-size="13.6" stroke="#2b2b2b" stroke-width="0.18" fill="#2b2b2b">5</text>
<line x1="267.60" y1="386.62" x2="269.50" y2="386.62" stroke="#4d4d4d" stroke-width="0.95"/>
<line x1="267.60" y1="378.99" x2="269.50" y2="378.99" stroke="#4d4d4d" stroke-width="0.95"/>
<line x1="267.60" y1="371.36" x2="269.50" y2="371.36" stroke="#4d4d4d" stroke-width="0.95"/>
<line x1="267.60" y1="363.73" x2="269.50" y2="363.73" stroke="#4d4d4d" stroke-width="0.95"/>
<line x1="267.00" y1="356.10" x2="271.90" y2="356.10" stroke="#4d4d4d" stroke-width="0.9"/>
<text transform="translate(262.50,359.50) scale(0.82,1)" text-anchor="end" font-size="13.6" stroke="#2b2b2b" stroke-width="0.18" fill="#2b2b2b">10</text>
<line x1="267.60" y1="348.47" x2="269.50" y2="348.47" stroke="#4d4d4d" stroke-width="0.95"/>
<line x1="267.60" y1="340.84" x2="269.50" y2="340.84" stroke="#4d4d4d" stroke-width="0.95"/>
<line x1="267.60" y1="333.21" x2="269.50" y2="333.21" stroke="#4d4d4d" stroke-width="0.95"/>
<line x1="267.60" y1="325.58" x2="269.50" y2="325.58" stroke="#4d4d4d" stroke-width="0.95"/>
<line x1="267.00" y1="317.95" x2="271.90" y2="317.95" stroke="#4d4d4d" stroke-width="0.9"/>
<text transform="translate(262.50,322.08) scale(0.82,1)" text-anchor="end" font-size="13.6" stroke="#2b2b2b" stroke-width="0.18" fill="#2b2b2b">15</text>
<line x1="267.60" y1="310.32" x2="269.50" y2="310.32" stroke="#4d4d4d" stroke-width="0.95"/>
<line x1="267.60" y1="302.69" x2="269.50" y2="302.69" stroke="#4d4d4d" stroke-width="0.95"/>
<line x1="267.60" y1="295.06" x2="269.50" y2="295.06" stroke="#4d4d4d" stroke-width="0.95"/>
<line x1="267.60" y1="287.43" x2="269.50" y2="287.43" stroke="#4d4d4d" stroke-width="0.95"/>
<line x1="267.00" y1="279.80" x2="271.90" y2="279.80" stroke="#4d4d4d" stroke-width="0.9"/>
<text transform="translate(262.50,284.65) scale(0.82,1)" text-anchor="end" font-size="13.6" stroke="#2b2b2b" stroke-width="0.18" fill="#2b2b2b">20</text>
<line x1="269.50" y1="432.40" x2="269.50" y2="434.90" stroke="#4d4d4d" stroke-width="0.95"/>
<line x1="290.12" y1="432.40" x2="290.12" y2="434.90" stroke="#4d4d4d" stroke-width="0.95"/>
<line x1="310.74" y1="432.40" x2="310.74" y2="434.90" stroke="#4d4d4d" stroke-width="0.95"/>
<line x1="331.36" y1="432.40" x2="331.36" y2="434.90" stroke="#4d4d4d" stroke-width="0.95"/>
<line x1="351.98" y1="432.40" x2="351.98" y2="434.90" stroke="#4d4d4d" stroke-width="0.95"/>
<line x1="372.60" y1="432.40" x2="372.60" y2="434.90" stroke="#4d4d4d" stroke-width="0.95"/>
<line x1="393.22" y1="432.40" x2="393.22" y2="434.90" stroke="#4d4d4d" stroke-width="0.95"/>
<line x1="413.84" y1="432.40" x2="413.84" y2="434.90" stroke="#4d4d4d" stroke-width="0.95"/>
<line x1="434.46" y1="432.40" x2="434.46" y2="434.90" stroke="#4d4d4d" stroke-width="0.95"/>
<text transform="translate(278.61,445.70) scale(0.82,1)" text-anchor="middle" font-size="13.6" stroke="#2b2b2b" stroke-width="0.18" fill="#2b2b2b">0.0</text>
<text transform="translate(319.85,445.70) scale(0.82,1)" text-anchor="middle" font-size="13.6" stroke="#2b2b2b" stroke-width="0.18" fill="#2b2b2b">0.2</text>
<text transform="translate(361.09,445.70) scale(0.82,1)" text-anchor="middle" font-size="13.6" stroke="#2b2b2b" stroke-width="0.18" fill="#2b2b2b">0.4</text>
<text transform="translate(402.33,445.70) scale(0.82,1)" text-anchor="middle" font-size="13.6" stroke="#2b2b2b" stroke-width="0.18" fill="#2b2b2b">0.6</text>
<text transform="translate(427.50,291.45) scale(0.82,1)" text-anchor="end" font-size="13.6" stroke="#2b2b2b" stroke-width="0.18" fill="#2b2b2b">Mirus-10</text>
<text transform="translate(427.50,307.70) scale(0.82,1)" text-anchor="end" font-size="13.6" stroke="#2b2b2b" stroke-width="0.18" fill="#2b2b2b">nD=29</text>
<text transform="translate(427.50,323.95) scale(0.82,1)" text-anchor="end" font-size="13.6" stroke="#2b2b2b" stroke-width="0.18" fill="#2b2b2b">nN=1</text>
</g>
<g>
<rect x="276.40" y="474.50" width="5.60" height="153.10" fill="#1f7a3c" stroke="#0b3f1f" stroke-width="0.9"/>
<rect x="297.02" y="581.88" width="5.60" height="45.72" fill="#1f7a3c" stroke="#0b3f1f" stroke-width="0.9"/>
<rect x="317.64" y="604.89" width="5.60" height="22.71" fill="#1f7a3c" stroke="#0b3f1f" stroke-width="0.9"/>
<rect x="379.50" y="612.56" width="5.60" height="15.04" fill="#1f7a3c" stroke="#0b3f1f" stroke-width="0.9"/>
<rect x="420.74" y="620.23" width="5.60" height="7.37" fill="#1f7a3c" stroke="#0b3f1f" stroke-width="0.9"/>
<line x1="268.80" y1="474.20" x2="268.80" y2="628.05" stroke="#4d4d4d" stroke-width="0.9"/>
<line x1="268.35" y1="627.60" x2="433.76" y2="627.60" stroke="#4d4d4d" stroke-width="0.9"/>
<line x1="266.30" y1="627.60" x2="271.20" y2="627.60" stroke="#4d4d4d" stroke-width="0.9"/>
<text transform="translate(263.60,629.75) scale(0.82,1)" text-anchor="end" font-size="13.6" stroke="#2b2b2b" stroke-width="0.18" fill="#2b2b2b">0</text>
<line x1="266.90" y1="619.93" x2="268.80" y2="619.93" stroke="#4d4d4d" stroke-width="0.95"/>
<line x1="266.90" y1="612.26" x2="268.80" y2="612.26" stroke="#4d4d4d" stroke-width="0.95"/>
<line x1="266.90" y1="604.59" x2="268.80" y2="604.59" stroke="#4d4d4d" stroke-width="0.95"/>
<line x1="266.90" y1="596.92" x2="268.80" y2="596.92" stroke="#4d4d4d" stroke-width="0.95"/>
<line x1="266.30" y1="589.25" x2="271.20" y2="589.25" stroke="#4d4d4d" stroke-width="0.9"/>
<text transform="translate(263.60,592.07) scale(0.82,1)" text-anchor="end" font-size="13.6" stroke="#2b2b2b" stroke-width="0.18" fill="#2b2b2b">5</text>
<line x1="266.90" y1="581.58" x2="268.80" y2="581.58" stroke="#4d4d4d" stroke-width="0.95"/>
<line x1="266.90" y1="573.91" x2="268.80" y2="573.91" stroke="#4d4d4d" stroke-width="0.95"/>
<line x1="266.90" y1="566.24" x2="268.80" y2="566.24" stroke="#4d4d4d" stroke-width="0.95"/>
<line x1="266.90" y1="558.57" x2="268.80" y2="558.57" stroke="#4d4d4d" stroke-width="0.95"/>
<line x1="266.30" y1="550.90" x2="271.20" y2="550.90" stroke="#4d4d4d" stroke-width="0.9"/>
<text transform="translate(263.60,554.40) scale(0.82,1)" text-anchor="end" font-size="13.6" stroke="#2b2b2b" stroke-width="0.18" fill="#2b2b2b">10</text>
<line x1="266.90" y1="543.23" x2="268.80" y2="543.23" stroke="#4d4d4d" stroke-width="0.95"/>
<line x1="266.90" y1="535.56" x2="268.80" y2="535.56" stroke="#4d4d4d" stroke-width="0.95"/>
<line x1="266.90" y1="527.89" x2="268.80" y2="527.89" stroke="#4d4d4d" stroke-width="0.95"/>
<line x1="266.90" y1="520.22" x2="268.80" y2="520.22" stroke="#4d4d4d" stroke-width="0.95"/>
<line x1="266.30" y1="512.55" x2="271.20" y2="512.55" stroke="#4d4d4d" stroke-width="0.9"/>
<text transform="translate(263.60,516.73) scale(0.82,1)" text-anchor="end" font-size="13.6" stroke="#2b2b2b" stroke-width="0.18" fill="#2b2b2b">15</text>
<line x1="266.90" y1="504.88" x2="268.80" y2="504.88" stroke="#4d4d4d" stroke-width="0.95"/>
<line x1="266.90" y1="497.21" x2="268.80" y2="497.21" stroke="#4d4d4d" stroke-width="0.95"/>
<line x1="266.90" y1="489.54" x2="268.80" y2="489.54" stroke="#4d4d4d" stroke-width="0.95"/>
<line x1="266.90" y1="481.87" x2="268.80" y2="481.87" stroke="#4d4d4d" stroke-width="0.95"/>
<line x1="266.30" y1="474.20" x2="271.20" y2="474.20" stroke="#4d4d4d" stroke-width="0.9"/>
<text transform="translate(263.60,479.05) scale(0.82,1)" text-anchor="end" font-size="13.6" stroke="#2b2b2b" stroke-width="0.18" fill="#2b2b2b">20</text>
<line x1="268.80" y1="627.60" x2="268.80" y2="630.10" stroke="#4d4d4d" stroke-width="0.95"/>
<line x1="289.42" y1="627.60" x2="289.42" y2="630.10" stroke="#4d4d4d" stroke-width="0.95"/>
<line x1="310.04" y1="627.60" x2="310.04" y2="630.10" stroke="#4d4d4d" stroke-width="0.95"/>
<line x1="330.66" y1="627.60" x2="330.66" y2="630.10" stroke="#4d4d4d" stroke-width="0.95"/>
<line x1="351.28" y1="627.60" x2="351.28" y2="630.10" stroke="#4d4d4d" stroke-width="0.95"/>
<line x1="371.90" y1="627.60" x2="371.90" y2="630.10" stroke="#4d4d4d" stroke-width="0.95"/>
<line x1="392.52" y1="627.60" x2="392.52" y2="630.10" stroke="#4d4d4d" stroke-width="0.95"/>
<line x1="413.14" y1="627.60" x2="413.14" y2="630.10" stroke="#4d4d4d" stroke-width="0.95"/>
<line x1="433.76" y1="627.60" x2="433.76" y2="630.10" stroke="#4d4d4d" stroke-width="0.95"/>
<text transform="translate(279.71,640.80) scale(0.82,1)" text-anchor="middle" font-size="13.6" stroke="#2b2b2b" stroke-width="0.18" fill="#2b2b2b">0.0</text>
<text transform="translate(320.95,640.80) scale(0.82,1)" text-anchor="middle" font-size="13.6" stroke="#2b2b2b" stroke-width="0.18" fill="#2b2b2b">0.2</text>
<text transform="translate(362.19,640.80) scale(0.82,1)" text-anchor="middle" font-size="13.6" stroke="#2b2b2b" stroke-width="0.18" fill="#2b2b2b">0.4</text>
<text transform="translate(403.43,640.80) scale(0.82,1)" text-anchor="middle" font-size="13.6" stroke="#2b2b2b" stroke-width="0.18" fill="#2b2b2b">0.6</text>
<text transform="translate(429.75,487.20) scale(0.82,1)" text-anchor="end" font-size="13.6" stroke="#2b2b2b" stroke-width="0.18" fill="#2b2b2b">Mirus-9</text>
<text transform="translate(429.75,503.20) scale(0.82,1)" text-anchor="end" font-size="13.6" stroke="#2b2b2b" stroke-width="0.18" fill="#2b2b2b">nD=32</text>
</g>
<g>
<rect x="277.00" y="692.46" width="5.60" height="162.24" fill="#1f7a3c" stroke="#0b3f1f" stroke-width="0.9"/>
<rect x="297.62" y="831.78" width="5.60" height="22.92" fill="#1f7a3c" stroke="#0b3f1f" stroke-width="0.9"/>
<rect x="318.24" y="824.04" width="5.60" height="30.66" fill="#1f7a3c" stroke="#0b3f1f" stroke-width="0.9"/>
<rect x="338.86" y="847.26" width="5.60" height="7.44" fill="#1f7a3c" stroke="#0b3f1f" stroke-width="0.9"/>
<rect x="359.48" y="824.04" width="5.60" height="30.66" fill="#1f7a3c" stroke="#0b3f1f" stroke-width="0.9"/>
<rect x="380.10" y="824.04" width="5.60" height="30.66" fill="#1f7a3c" stroke="#0b3f1f" stroke-width="0.9"/>
<rect x="400.72" y="847.26" width="5.60" height="7.44" fill="#1f7a3c" stroke="#0b3f1f" stroke-width="0.9"/>
<rect x="421.34" y="847.26" width="5.60" height="7.44" fill="#1f7a3c" stroke="#0b3f1f" stroke-width="0.9"/>
<line x1="269.40" y1="661.20" x2="269.40" y2="855.15" stroke="#4d4d4d" stroke-width="0.9"/>
<line x1="268.95" y1="854.70" x2="434.36" y2="854.70" stroke="#4d4d4d" stroke-width="0.9"/>
<line x1="266.90" y1="854.70" x2="271.80" y2="854.70" stroke="#4d4d4d" stroke-width="0.9"/>
<text transform="translate(263.90,858.15) scale(0.82,1)" text-anchor="end" font-size="13.6" stroke="#2b2b2b" stroke-width="0.18" fill="#2b2b2b">0</text>
<line x1="267.50" y1="846.96" x2="269.40" y2="846.96" stroke="#4d4d4d" stroke-width="0.95"/>
<line x1="267.50" y1="839.22" x2="269.40" y2="839.22" stroke="#4d4d4d" stroke-width="0.95"/>
<line x1="267.50" y1="831.48" x2="269.40" y2="831.48" stroke="#4d4d4d" stroke-width="0.95"/>
<line x1="267.50" y1="823.74" x2="269.40" y2="823.74" stroke="#4d4d4d" stroke-width="0.95"/>
<line x1="266.90" y1="816.00" x2="271.80" y2="816.00" stroke="#4d4d4d" stroke-width="0.9"/>
<text transform="translate(263.90,819.73) scale(0.82,1)" text-anchor="end" font-size="13.6" stroke="#2b2b2b" stroke-width="0.18" fill="#2b2b2b">5</text>
<line x1="267.50" y1="808.26" x2="269.40" y2="808.26" stroke="#4d4d4d" stroke-width="0.95"/>
<line x1="267.50" y1="800.52" x2="269.40" y2="800.52" stroke="#4d4d4d" stroke-width="0.95"/>
<line x1="267.50" y1="792.78" x2="269.40" y2="792.78" stroke="#4d4d4d" stroke-width="0.95"/>
<line x1="267.50" y1="785.04" x2="269.40" y2="785.04" stroke="#4d4d4d" stroke-width="0.95"/>
<line x1="266.90" y1="777.30" x2="271.80" y2="777.30" stroke="#4d4d4d" stroke-width="0.9"/>
<text transform="translate(263.90,781.31) scale(0.82,1)" text-anchor="end" font-size="13.6" stroke="#2b2b2b" stroke-width="0.18" fill="#2b2b2b">10</text>
<line x1="267.50" y1="769.56" x2="269.40" y2="769.56" stroke="#4d4d4d" stroke-width="0.95"/>
<line x1="267.50" y1="761.82" x2="269.40" y2="761.82" stroke="#4d4d4d" stroke-width="0.95"/>
<line x1="267.50" y1="754.08" x2="269.40" y2="754.08" stroke="#4d4d4d" stroke-width="0.95"/>
<line x1="267.50" y1="746.34" x2="269.40" y2="746.34" stroke="#4d4d4d" stroke-width="0.95"/>
<line x1="266.90" y1="738.60" x2="271.80" y2="738.60" stroke="#4d4d4d" stroke-width="0.9"/>
<text transform="translate(263.90,742.89) scale(0.82,1)" text-anchor="end" font-size="13.6" stroke="#2b2b2b" stroke-width="0.18" fill="#2b2b2b">15</text>
<line x1="267.50" y1="730.86" x2="269.40" y2="730.86" stroke="#4d4d4d" stroke-width="0.95"/>
<line x1="267.50" y1="723.12" x2="269.40" y2="723.12" stroke="#4d4d4d" stroke-width="0.95"/>
<line x1="267.50" y1="715.38" x2="269.40" y2="715.38" stroke="#4d4d4d" stroke-width="0.95"/>
<line x1="267.50" y1="707.64" x2="269.40" y2="707.64" stroke="#4d4d4d" stroke-width="0.95"/>
<line x1="266.90" y1="699.90" x2="271.80" y2="699.90" stroke="#4d4d4d" stroke-width="0.9"/>
<text transform="translate(263.90,704.47) scale(0.82,1)" text-anchor="end" font-size="13.6" stroke="#2b2b2b" stroke-width="0.18" fill="#2b2b2b">20</text>
<line x1="267.50" y1="692.16" x2="269.40" y2="692.16" stroke="#4d4d4d" stroke-width="0.95"/>
<line x1="267.50" y1="684.42" x2="269.40" y2="684.42" stroke="#4d4d4d" stroke-width="0.95"/>
<line x1="267.50" y1="676.68" x2="269.40" y2="676.68" stroke="#4d4d4d" stroke-width="0.95"/>
<line x1="267.50" y1="668.94" x2="269.40" y2="668.94" stroke="#4d4d4d" stroke-width="0.95"/>
<line x1="266.90" y1="661.20" x2="271.80" y2="661.20" stroke="#4d4d4d" stroke-width="0.9"/>
<text transform="translate(263.90,666.05) scale(0.82,1)" text-anchor="end" font-size="13.6" stroke="#2b2b2b" stroke-width="0.18" fill="#2b2b2b">25</text>
<line x1="269.40" y1="854.70" x2="269.40" y2="857.20" stroke="#4d4d4d" stroke-width="0.95"/>
<line x1="290.02" y1="854.70" x2="290.02" y2="857.20" stroke="#4d4d4d" stroke-width="0.95"/>
<line x1="310.64" y1="854.70" x2="310.64" y2="857.20" stroke="#4d4d4d" stroke-width="0.95"/>
<line x1="331.26" y1="854.70" x2="331.26" y2="857.20" stroke="#4d4d4d" stroke-width="0.95"/>
<line x1="351.88" y1="854.70" x2="351.88" y2="857.20" stroke="#4d4d4d" stroke-width="0.95"/>
<line x1="372.50" y1="854.70" x2="372.50" y2="857.20" stroke="#4d4d4d" stroke-width="0.95"/>
<line x1="393.12" y1="854.70" x2="393.12" y2="857.20" stroke="#4d4d4d" stroke-width="0.95"/>
<line x1="413.74" y1="854.70" x2="413.74" y2="857.20" stroke="#4d4d4d" stroke-width="0.95"/>
<line x1="434.36" y1="854.70" x2="434.36" y2="857.20" stroke="#4d4d4d" stroke-width="0.95"/>
<text transform="translate(280.31,869.80) scale(0.82,1)" text-anchor="middle" font-size="13.6" stroke="#2b2b2b" stroke-width="0.18" fill="#2b2b2b">0.0</text>
<text transform="translate(321.55,869.80) scale(0.82,1)" text-anchor="middle" font-size="13.6" stroke="#2b2b2b" stroke-width="0.18" fill="#2b2b2b">0.2</text>
<text transform="translate(362.79,869.80) scale(0.82,1)" text-anchor="middle" font-size="13.6" stroke="#2b2b2b" stroke-width="0.18" fill="#2b2b2b">0.4</text>
<text transform="translate(404.03,869.80) scale(0.82,1)" text-anchor="middle" font-size="13.6" stroke="#2b2b2b" stroke-width="0.18" fill="#2b2b2b">0.6</text>
<text transform="translate(430.50,674.45) scale(0.82,1)" text-anchor="end" font-size="13.6" stroke="#2b2b2b" stroke-width="0.18" fill="#2b2b2b">Mirus-8</text>
<text transform="translate(430.50,690.20) scale(0.82,1)" text-anchor="end" font-size="13.6" stroke="#2b2b2b" stroke-width="0.18" fill="#2b2b2b">nD=39</text>
</g>
<g>
<rect x="477.20" y="85.53" width="5.60" height="7.37" fill="#2c9447" stroke="#17602d" stroke-width="0.9"/>
<rect x="485.90" y="85.53" width="5.60" height="7.37" fill="#fdf05f" stroke="#7a7030" stroke-width="0.9"/>
<rect x="506.52" y="39.51" width="5.60" height="53.39" fill="#fdf05f" stroke="#7a7030" stroke-width="0.9"/>
<rect x="527.14" y="70.19" width="5.60" height="22.71" fill="#fdf05f" stroke="#7a7030" stroke-width="0.9"/>
<rect x="547.76" y="77.86" width="5.60" height="15.04" fill="#fdf05f" stroke="#7a7030" stroke-width="0.9"/>
<rect x="568.38" y="77.86" width="5.60" height="15.04" fill="#fdf05f" stroke="#7a7030" stroke-width="0.9"/>
<rect x="589.00" y="77.86" width="5.60" height="15.04" fill="#fdf05f" stroke="#7a7030" stroke-width="0.9"/>
<line x1="473.70" y1="16.20" x2="473.70" y2="93.35" stroke="#4d4d4d" stroke-width="0.9"/>
<line x1="473.25" y1="92.90" x2="638.66" y2="92.90" stroke="#4d4d4d" stroke-width="0.9"/>
<line x1="471.20" y1="92.90" x2="476.10" y2="92.90" stroke="#4d4d4d" stroke-width="0.9"/>
<text transform="translate(466.80,95.85) scale(0.82,1)" text-anchor="end" font-size="13.6" stroke="#2b2b2b" stroke-width="0.18" fill="#2b2b2b">0</text>
<line x1="471.80" y1="85.23" x2="473.70" y2="85.23" stroke="#4d4d4d" stroke-width="0.95"/>
<line x1="471.80" y1="77.56" x2="473.70" y2="77.56" stroke="#4d4d4d" stroke-width="0.95"/>
<line x1="471.80" y1="69.89" x2="473.70" y2="69.89" stroke="#4d4d4d" stroke-width="0.95"/>
<line x1="471.80" y1="62.22" x2="473.70" y2="62.22" stroke="#4d4d4d" stroke-width="0.95"/>
<line x1="471.20" y1="54.55" x2="476.10" y2="54.55" stroke="#4d4d4d" stroke-width="0.9"/>
<text transform="translate(466.80,58.45) scale(0.82,1)" text-anchor="end" font-size="13.6" stroke="#2b2b2b" stroke-width="0.18" fill="#2b2b2b">5</text>
<line x1="471.80" y1="46.88" x2="473.70" y2="46.88" stroke="#4d4d4d" stroke-width="0.95"/>
<line x1="471.80" y1="39.21" x2="473.70" y2="39.21" stroke="#4d4d4d" stroke-width="0.95"/>
<line x1="471.80" y1="31.54" x2="473.70" y2="31.54" stroke="#4d4d4d" stroke-width="0.95"/>
<line x1="471.80" y1="23.87" x2="473.70" y2="23.87" stroke="#4d4d4d" stroke-width="0.95"/>
<line x1="471.20" y1="16.20" x2="476.10" y2="16.20" stroke="#4d4d4d" stroke-width="0.9"/>
<text transform="translate(466.80,21.05) scale(0.82,1)" text-anchor="end" font-size="13.6" stroke="#2b2b2b" stroke-width="0.18" fill="#2b2b2b">10</text>
<line x1="473.70" y1="92.90" x2="473.70" y2="95.40" stroke="#4d4d4d" stroke-width="0.95"/>
<line x1="494.32" y1="92.90" x2="494.32" y2="95.40" stroke="#4d4d4d" stroke-width="0.95"/>
<line x1="514.94" y1="92.90" x2="514.94" y2="95.40" stroke="#4d4d4d" stroke-width="0.95"/>
<line x1="535.56" y1="92.90" x2="535.56" y2="95.40" stroke="#4d4d4d" stroke-width="0.95"/>
<line x1="556.18" y1="92.90" x2="556.18" y2="95.40" stroke="#4d4d4d" stroke-width="0.95"/>
<line x1="576.80" y1="92.90" x2="576.80" y2="95.40" stroke="#4d4d4d" stroke-width="0.95"/>
<line x1="597.42" y1="92.90" x2="597.42" y2="95.40" stroke="#4d4d4d" stroke-width="0.95"/>
<line x1="618.04" y1="92.90" x2="618.04" y2="95.40" stroke="#4d4d4d" stroke-width="0.95"/>
<line x1="638.66" y1="92.90" x2="638.66" y2="95.40" stroke="#4d4d4d" stroke-width="0.95"/>
<text transform="translate(483.21,107.50) scale(0.82,1)" text-anchor="middle" font-size="13.6" stroke="#2b2b2b" stroke-width="0.18" fill="#2b2b2b">0.0</text>
<text transform="translate(524.45,107.50) scale(0.82,1)" text-anchor="middle" font-size="13.6" stroke="#2b2b2b" stroke-width="0.18" fill="#2b2b2b">0.2</text>
<text transform="translate(565.69,107.50) scale(0.82,1)" text-anchor="middle" font-size="13.6" stroke="#2b2b2b" stroke-width="0.18" fill="#2b2b2b">0.4</text>
<text transform="translate(606.93,107.50) scale(0.82,1)" text-anchor="middle" font-size="13.6" stroke="#2b2b2b" stroke-width="0.18" fill="#2b2b2b">0.6</text>
<text transform="translate(634.60,28.20) scale(0.82,1)" text-anchor="end" font-size="13.6" stroke="#2b2b2b" stroke-width="0.18" fill="#2b2b2b">Pers-19</text>
<text transform="translate(634.60,44.70) scale(0.82,1)" text-anchor="end" font-size="13.6" stroke="#2b2b2b" stroke-width="0.18" fill="#2b2b2b">nD=1</text>
<text transform="translate(634.60,60.70) scale(0.82,1)" text-anchor="end" font-size="13.6" stroke="#2b2b2b" stroke-width="0.18" fill="#2b2b2b">nN=17</text>
</g>
<g>
<rect x="477.20" y="239.73" width="5.60" height="7.47" fill="#1f7a3c" stroke="#0b3f1f" stroke-width="0.9"/>
<rect x="485.90" y="162.03" width="5.60" height="85.17" fill="#fdf05f" stroke="#7a7030" stroke-width="0.9"/>
<rect x="506.52" y="231.96" width="5.60" height="15.24" fill="#fdf05f" stroke="#7a7030" stroke-width="0.9"/>
<rect x="527.14" y="239.73" width="5.60" height="7.47" fill="#fdf05f" stroke="#7a7030" stroke-width="0.9"/>
<rect x="547.76" y="239.73" width="5.60" height="7.47" fill="#fdf05f" stroke="#7a7030" stroke-width="0.9"/>
<rect x="568.38" y="239.73" width="5.60" height="7.47" fill="#fdf05f" stroke="#7a7030" stroke-width="0.9"/>
<line x1="474.40" y1="130.65" x2="474.40" y2="247.65" stroke="#4d4d4d" stroke-width="0.9"/>
<line x1="473.95" y1="247.20" x2="639.36" y2="247.20" stroke="#4d4d4d" stroke-width="0.9"/>
<line x1="471.90" y1="247.20" x2="476.80" y2="247.20" stroke="#4d4d4d" stroke-width="0.9"/>
<text transform="translate(467.70,248.05) scale(0.82,1)" text-anchor="end" font-size="13.6" stroke="#2b2b2b" stroke-width="0.18" fill="#2b2b2b">0</text>
<line x1="472.50" y1="239.43" x2="474.40" y2="239.43" stroke="#4d4d4d" stroke-width="0.95"/>
<line x1="472.50" y1="231.66" x2="474.40" y2="231.66" stroke="#4d4d4d" stroke-width="0.95"/>
<line x1="472.50" y1="223.89" x2="474.40" y2="223.89" stroke="#4d4d4d" stroke-width="0.95"/>
<line x1="472.50" y1="216.12" x2="474.40" y2="216.12" stroke="#4d4d4d" stroke-width="0.95"/>
<line x1="471.90" y1="208.35" x2="476.80" y2="208.35" stroke="#4d4d4d" stroke-width="0.9"/>
<text transform="translate(467.70,210.40) scale(0.82,1)" text-anchor="end" font-size="13.6" stroke="#2b2b2b" stroke-width="0.18" fill="#2b2b2b">5</text>
<line x1="472.50" y1="200.58" x2="474.40" y2="200.58" stroke="#4d4d4d" stroke-width="0.95"/>
<line x1="472.50" y1="192.81" x2="474.40" y2="192.81" stroke="#4d4d4d" stroke-width="0.95"/>
<line x1="472.50" y1="185.04" x2="474.40" y2="185.04" stroke="#4d4d4d" stroke-width="0.95"/>
<line x1="472.50" y1="177.27" x2="474.40" y2="177.27" stroke="#4d4d4d" stroke-width="0.95"/>
<line x1="471.90" y1="169.50" x2="476.80" y2="169.50" stroke="#4d4d4d" stroke-width="0.9"/>
<text transform="translate(467.70,172.75) scale(0.82,1)" text-anchor="end" font-size="13.6" stroke="#2b2b2b" stroke-width="0.18" fill="#2b2b2b">10</text>
<line x1="472.50" y1="161.73" x2="474.40" y2="161.73" stroke="#4d4d4d" stroke-width="0.95"/>
<line x1="472.50" y1="153.96" x2="474.40" y2="153.96" stroke="#4d4d4d" stroke-width="0.95"/>
<line x1="472.50" y1="146.19" x2="474.40" y2="146.19" stroke="#4d4d4d" stroke-width="0.95"/>
<line x1="472.50" y1="138.42" x2="474.40" y2="138.42" stroke="#4d4d4d" stroke-width="0.95"/>
<line x1="471.90" y1="130.65" x2="476.80" y2="130.65" stroke="#4d4d4d" stroke-width="0.9"/>
<text transform="translate(467.70,135.10) scale(0.82,1)" text-anchor="end" font-size="13.6" stroke="#2b2b2b" stroke-width="0.18" fill="#2b2b2b">15</text>
<line x1="474.40" y1="247.20" x2="474.40" y2="249.70" stroke="#4d4d4d" stroke-width="0.95"/>
<line x1="495.02" y1="247.20" x2="495.02" y2="249.70" stroke="#4d4d4d" stroke-width="0.95"/>
<line x1="515.64" y1="247.20" x2="515.64" y2="249.70" stroke="#4d4d4d" stroke-width="0.95"/>
<line x1="536.26" y1="247.20" x2="536.26" y2="249.70" stroke="#4d4d4d" stroke-width="0.95"/>
<line x1="556.88" y1="247.20" x2="556.88" y2="249.70" stroke="#4d4d4d" stroke-width="0.95"/>
<line x1="577.50" y1="247.20" x2="577.50" y2="249.70" stroke="#4d4d4d" stroke-width="0.95"/>
<line x1="598.12" y1="247.20" x2="598.12" y2="249.70" stroke="#4d4d4d" stroke-width="0.95"/>
<line x1="618.74" y1="247.20" x2="618.74" y2="249.70" stroke="#4d4d4d" stroke-width="0.95"/>
<line x1="639.36" y1="247.20" x2="639.36" y2="249.70" stroke="#4d4d4d" stroke-width="0.95"/>
<text transform="translate(484.61,259.10) scale(0.82,1)" text-anchor="middle" font-size="13.6" stroke="#2b2b2b" stroke-width="0.18" fill="#2b2b2b">0.0</text>
<text transform="translate(525.85,259.10) scale(0.82,1)" text-anchor="middle" font-size="13.6" stroke="#2b2b2b" stroke-width="0.18" fill="#2b2b2b">0.2</text>
<text transform="translate(567.09,259.10) scale(0.82,1)" text-anchor="middle" font-size="13.6" stroke="#2b2b2b" stroke-width="0.18" fill="#2b2b2b">0.4</text>
<text transform="translate(608.33,259.10) scale(0.82,1)" text-anchor="middle" font-size="13.6" stroke="#2b2b2b" stroke-width="0.18" fill="#2b2b2b">0.6</text>
<text transform="translate(634.00,160.20) scale(0.82,1)" text-anchor="end" font-size="13.6" stroke="#2b2b2b" stroke-width="0.18" fill="#2b2b2b">Pers-18</text>
<text transform="translate(634.00,176.45) scale(0.82,1)" text-anchor="end" font-size="13.6" stroke="#2b2b2b" stroke-width="0.18" fill="#2b2b2b">nD=1</text>
<text transform="translate(634.00,192.70) scale(0.82,1)" text-anchor="end" font-size="13.6" stroke="#2b2b2b" stroke-width="0.18" fill="#2b2b2b">nN=16</text>
</g>
<g>
<rect x="478.40" y="391.95" width="5.60" height="7.50" fill="#1f7a3c" stroke="#0b3f1f" stroke-width="0.9"/>
<rect x="487.10" y="313.95" width="5.60" height="85.50" fill="#fdf05f" stroke="#7a7030" stroke-width="0.9"/>
<rect x="507.72" y="384.15" width="5.60" height="15.30" fill="#fdf05f" stroke="#7a7030" stroke-width="0.9"/>
<rect x="548.96" y="384.15" width="5.60" height="15.30" fill="#fdf05f" stroke="#7a7030" stroke-width="0.9"/>
<rect x="569.58" y="391.95" width="5.60" height="7.50" fill="#fdf05f" stroke="#7a7030" stroke-width="0.9"/>
<line x1="474.90" y1="282.45" x2="474.90" y2="399.90" stroke="#4d4d4d" stroke-width="0.9"/>
<line x1="474.45" y1="399.45" x2="639.86" y2="399.45" stroke="#4d4d4d" stroke-width="0.9"/>
<line x1="472.40" y1="399.45" x2="477.30" y2="399.45" stroke="#4d4d4d" stroke-width="0.9"/>
<text transform="translate(468.60,402.60) scale(0.82,1)" text-anchor="end" font-size="13.6" stroke="#2b2b2b" stroke-width="0.18" fill="#2b2b2b">0</text>
<line x1="473.00" y1="391.65" x2="474.90" y2="391.65" stroke="#4d4d4d" stroke-width="0.95"/>
<line x1="473.00" y1="383.85" x2="474.90" y2="383.85" stroke="#4d4d4d" stroke-width="0.95"/>
<line x1="473.00" y1="376.05" x2="474.90" y2="376.05" stroke="#4d4d4d" stroke-width="0.95"/>
<line x1="473.00" y1="368.25" x2="474.90" y2="368.25" stroke="#4d4d4d" stroke-width="0.95"/>
<line x1="472.40" y1="360.45" x2="477.30" y2="360.45" stroke="#4d4d4d" stroke-width="0.9"/>
<text transform="translate(468.60,364.63) scale(0.82,1)" text-anchor="end" font-size="13.6" stroke="#2b2b2b" stroke-width="0.18" fill="#2b2b2b">5</text>
<line x1="473.00" y1="352.65" x2="474.90" y2="352.65" stroke="#4d4d4d" stroke-width="0.95"/>
<line x1="473.00" y1="344.85" x2="474.90" y2="344.85" stroke="#4d4d4d" stroke-width="0.95"/>
<line x1="473.00" y1="337.05" x2="474.90" y2="337.05" stroke="#4d4d4d" stroke-width="0.95"/>
<line x1="473.00" y1="329.25" x2="474.90" y2="329.25" stroke="#4d4d4d" stroke-width="0.95"/>
<line x1="472.40" y1="321.45" x2="477.30" y2="321.45" stroke="#4d4d4d" stroke-width="0.9"/>
<text transform="translate(468.60,326.67) scale(0.82,1)" text-anchor="end" font-size="13.6" stroke="#2b2b2b" stroke-width="0.18" fill="#2b2b2b">10</text>
<line x1="473.00" y1="313.65" x2="474.90" y2="313.65" stroke="#4d4d4d" stroke-width="0.95"/>
<line x1="473.00" y1="305.85" x2="474.90" y2="305.85" stroke="#4d4d4d" stroke-width="0.95"/>
<line x1="473.00" y1="298.05" x2="474.90" y2="298.05" stroke="#4d4d4d" stroke-width="0.95"/>
<line x1="473.00" y1="290.25" x2="474.90" y2="290.25" stroke="#4d4d4d" stroke-width="0.95"/>
<line x1="472.40" y1="282.45" x2="477.30" y2="282.45" stroke="#4d4d4d" stroke-width="0.9"/>
<text transform="translate(468.60,288.70) scale(0.82,1)" text-anchor="end" font-size="13.6" stroke="#2b2b2b" stroke-width="0.18" fill="#2b2b2b">15</text>
<line x1="474.90" y1="399.45" x2="474.90" y2="401.95" stroke="#4d4d4d" stroke-width="0.95"/>
<line x1="495.52" y1="399.45" x2="495.52" y2="401.95" stroke="#4d4d4d" stroke-width="0.95"/>
<line x1="516.14" y1="399.45" x2="516.14" y2="401.95" stroke="#4d4d4d" stroke-width="0.95"/>
<line x1="536.76" y1="399.45" x2="536.76" y2="401.95" stroke="#4d4d4d" stroke-width="0.95"/>
<line x1="557.38" y1="399.45" x2="557.38" y2="401.95" stroke="#4d4d4d" stroke-width="0.95"/>
<line x1="578.00" y1="399.45" x2="578.00" y2="401.95" stroke="#4d4d4d" stroke-width="0.95"/>
<line x1="598.62" y1="399.45" x2="598.62" y2="401.95" stroke="#4d4d4d" stroke-width="0.95"/>
<line x1="619.24" y1="399.45" x2="619.24" y2="401.95" stroke="#4d4d4d" stroke-width="0.95"/>
<line x1="639.86" y1="399.45" x2="639.86" y2="401.95" stroke="#4d4d4d" stroke-width="0.95"/>
<text transform="translate(485.01,413.15) scale(0.82,1)" text-anchor="middle" font-size="13.6" stroke="#2b2b2b" stroke-width="0.18" fill="#2b2b2b">0.0</text>
<text transform="translate(526.25,413.15) scale(0.82,1)" text-anchor="middle" font-size="13.6" stroke="#2b2b2b" stroke-width="0.18" fill="#2b2b2b">0.2</text>
<text transform="translate(567.49,413.15) scale(0.82,1)" text-anchor="middle" font-size="13.6" stroke="#2b2b2b" stroke-width="0.18" fill="#2b2b2b">0.4</text>
<text transform="translate(608.73,413.15) scale(0.82,1)" text-anchor="middle" font-size="13.6" stroke="#2b2b2b" stroke-width="0.18" fill="#2b2b2b">0.6</text>
<text transform="translate(634.00,297.70) scale(0.82,1)" text-anchor="end" font-size="13.6" stroke="#2b2b2b" stroke-width="0.18" fill="#2b2b2b">Pers-17</text>
<text transform="translate(634.00,313.95) scale(0.82,1)" text-anchor="end" font-size="13.6" stroke="#2b2b2b" stroke-width="0.18" fill="#2b2b2b">nD=1</text>
<text transform="translate(634.00,330.20) scale(0.82,1)" text-anchor="end" font-size="13.6" stroke="#2b2b2b" stroke-width="0.18" fill="#2b2b2b">nN=17</text>
</g>
<g>
<rect x="477.20" y="488.81" width="5.60" height="23.19" fill="#1f7a3c" stroke="#0b3f1f" stroke-width="0.9"/>
<rect x="485.90" y="441.83" width="5.60" height="70.17" fill="#fce81e" stroke="#6e6415" stroke-width="0.9"/>
<rect x="506.52" y="488.81" width="5.60" height="23.19" fill="#fce81e" stroke="#6e6415" stroke-width="0.9"/>
<rect x="527.14" y="488.81" width="5.60" height="23.19" fill="#fce81e" stroke="#6e6415" stroke-width="0.9"/>
<rect x="568.38" y="504.47" width="5.60" height="7.53" fill="#fce81e" stroke="#6e6415" stroke-width="0.9"/>
<rect x="589.00" y="504.47" width="5.60" height="7.53" fill="#fce81e" stroke="#6e6415" stroke-width="0.9"/>
<line x1="473.70" y1="433.70" x2="473.70" y2="512.45" stroke="#4d4d4d" stroke-width="0.9"/>
<line x1="473.25" y1="512.00" x2="638.66" y2="512.00" stroke="#4d4d4d" stroke-width="0.9"/>
<line x1="471.20" y1="512.00" x2="476.10" y2="512.00" stroke="#4d4d4d" stroke-width="0.9"/>
<text transform="translate(467.70,513.95) scale(0.82,1)" text-anchor="end" font-size="13.6" stroke="#2b2b2b" stroke-width="0.18" fill="#2b2b2b">0</text>
<line x1="471.80" y1="504.17" x2="473.70" y2="504.17" stroke="#4d4d4d" stroke-width="0.95"/>
<line x1="471.80" y1="496.34" x2="473.70" y2="496.34" stroke="#4d4d4d" stroke-width="0.95"/>
<line x1="471.80" y1="488.51" x2="473.70" y2="488.51" stroke="#4d4d4d" stroke-width="0.95"/>
<line x1="471.80" y1="480.68" x2="473.70" y2="480.68" stroke="#4d4d4d" stroke-width="0.95"/>
<line x1="471.20" y1="472.85" x2="476.10" y2="472.85" stroke="#4d4d4d" stroke-width="0.9"/>
<text transform="translate(467.70,476.25) scale(0.82,1)" text-anchor="end" font-size="13.6" stroke="#2b2b2b" stroke-width="0.18" fill="#2b2b2b">5</text>
<line x1="471.80" y1="465.02" x2="473.70" y2="465.02" stroke="#4d4d4d" stroke-width="0.95"/>
<line x1="471.80" y1="457.19" x2="473.70" y2="457.19" stroke="#4d4d4d" stroke-width="0.95"/>
<line x1="471.80" y1="449.36" x2="473.70" y2="449.36" stroke="#4d4d4d" stroke-width="0.95"/>
<line x1="471.80" y1="441.53" x2="473.70" y2="441.53" stroke="#4d4d4d" stroke-width="0.95"/>
<line x1="471.20" y1="433.70" x2="476.10" y2="433.70" stroke="#4d4d4d" stroke-width="0.9"/>
<text transform="translate(467.70,438.55) scale(0.82,1)" text-anchor="end" font-size="13.6" stroke="#2b2b2b" stroke-width="0.18" fill="#2b2b2b">10</text>
<line x1="473.70" y1="512.00" x2="473.70" y2="514.50" stroke="#4d4d4d" stroke-width="0.95"/>
<line x1="494.32" y1="512.00" x2="494.32" y2="514.50" stroke="#4d4d4d" stroke-width="0.95"/>
<line x1="514.94" y1="512.00" x2="514.94" y2="514.50" stroke="#4d4d4d" stroke-width="0.95"/>
<line x1="535.56" y1="512.00" x2="535.56" y2="514.50" stroke="#4d4d4d" stroke-width="0.95"/>
<line x1="556.18" y1="512.00" x2="556.18" y2="514.50" stroke="#4d4d4d" stroke-width="0.95"/>
<line x1="576.80" y1="512.00" x2="576.80" y2="514.50" stroke="#4d4d4d" stroke-width="0.95"/>
<line x1="597.42" y1="512.00" x2="597.42" y2="514.50" stroke="#4d4d4d" stroke-width="0.95"/>
<line x1="618.04" y1="512.00" x2="618.04" y2="514.50" stroke="#4d4d4d" stroke-width="0.95"/>
<line x1="638.66" y1="512.00" x2="638.66" y2="514.50" stroke="#4d4d4d" stroke-width="0.95"/>
<text transform="translate(484.61,524.40) scale(0.82,1)" text-anchor="middle" font-size="13.6" stroke="#2b2b2b" stroke-width="0.18" fill="#2b2b2b">0.0</text>
<text transform="translate(525.85,524.40) scale(0.82,1)" text-anchor="middle" font-size="13.6" stroke="#2b2b2b" stroke-width="0.18" fill="#2b2b2b">0.2</text>
<text transform="translate(567.09,524.40) scale(0.82,1)" text-anchor="middle" font-size="13.6" stroke="#2b2b2b" stroke-width="0.18" fill="#2b2b2b">0.4</text>
<text transform="translate(608.33,524.40) scale(0.82,1)" text-anchor="middle" font-size="13.6" stroke="#2b2b2b" stroke-width="0.18" fill="#2b2b2b">0.6</text>
<text transform="translate(634.60,447.70) scale(0.82,1)" text-anchor="end" font-size="13.6" stroke="#2b2b2b" stroke-width="0.18" fill="#2b2b2b">Pers-16</text>
<text transform="translate(634.60,463.95) scale(0.82,1)" text-anchor="end" font-size="13.6" stroke="#2b2b2b" stroke-width="0.18" fill="#2b2b2b">nD=3</text>
<text transform="translate(634.60,479.70) scale(0.82,1)" text-anchor="end" font-size="13.6" stroke="#2b2b2b" stroke-width="0.18" fill="#2b2b2b">nN=17</text>
</g>
<g>
<rect x="477.20" y="589.00" width="5.60" height="38.85" fill="#1f7a3c" stroke="#0b3f1f" stroke-width="0.9"/>
<rect x="497.82" y="612.49" width="5.60" height="15.36" fill="#1f7a3c" stroke="#0b3f1f" stroke-width="0.9"/>
<rect x="518.44" y="620.32" width="5.60" height="7.53" fill="#1f7a3c" stroke="#0b3f1f" stroke-width="0.9"/>
<rect x="485.90" y="589.00" width="5.60" height="38.85" fill="#fce81e" stroke="#6e6415" stroke-width="0.9"/>
<rect x="506.52" y="596.83" width="5.60" height="31.02" fill="#fce81e" stroke="#6e6415" stroke-width="0.9"/>
<rect x="527.14" y="581.17" width="5.60" height="46.68" fill="#fce81e" stroke="#6e6415" stroke-width="0.9"/>
<rect x="547.76" y="620.32" width="5.60" height="7.53" fill="#fce81e" stroke="#6e6415" stroke-width="0.9"/>
<rect x="589.00" y="612.49" width="5.60" height="15.36" fill="#fce81e" stroke="#6e6415" stroke-width="0.9"/>
<line x1="473.70" y1="549.55" x2="473.70" y2="628.30" stroke="#4d4d4d" stroke-width="0.9"/>
<line x1="473.25" y1="627.85" x2="638.66" y2="627.85" stroke="#4d4d4d" stroke-width="0.9"/>
<line x1="471.20" y1="627.85" x2="476.10" y2="627.85" stroke="#4d4d4d" stroke-width="0.9"/>
<text transform="translate(467.70,631.20) scale(0.82,1)" text-anchor="end" font-size="13.6" stroke="#2b2b2b" stroke-width="0.18" fill="#2b2b2b">0</text>
<line x1="471.80" y1="620.02" x2="473.70" y2="620.02" stroke="#4d4d4d" stroke-width="0.95"/>
<line x1="471.80" y1="612.19" x2="473.70" y2="612.19" stroke="#4d4d4d" stroke-width="0.95"/>
<line x1="471.80" y1="604.36" x2="473.70" y2="604.36" stroke="#4d4d4d" stroke-width="0.95"/>
<line x1="471.80" y1="596.53" x2="473.70" y2="596.53" stroke="#4d4d4d" stroke-width="0.95"/>
<line x1="471.20" y1="588.70" x2="476.10" y2="588.70" stroke="#4d4d4d" stroke-width="0.9"/>
<text transform="translate(467.70,593.00) scale(0.82,1)" text-anchor="end" font-size="13.6" stroke="#2b2b2b" stroke-width="0.18" fill="#2b2b2b">5</text>
<line x1="471.80" y1="580.87" x2="473.70" y2="580.87" stroke="#4d4d4d" stroke-width="0.95"/>
<line x1="471.80" y1="573.04" x2="473.70" y2="573.04" stroke="#4d4d4d" stroke-width="0.95"/>
<line x1="471.80" y1="565.21" x2="473.70" y2="565.21" stroke="#4d4d4d" stroke-width="0.95"/>
<line x1="471.80" y1="557.38" x2="473.70" y2="557.38" stroke="#4d4d4d" stroke-width="0.95"/>
<line x1="471.20" y1="549.55" x2="476.10" y2="549.55" stroke="#4d4d4d" stroke-width="0.9"/>
<text transform="translate(467.70,554.80) scale(0.82,1)" text-anchor="end" font-size="13.6" stroke="#2b2b2b" stroke-width="0.18" fill="#2b2b2b">10</text>
<line x1="473.70" y1="627.85" x2="473.70" y2="630.35" stroke="#4d4d4d" stroke-width="0.95"/>
<line x1="494.32" y1="627.85" x2="494.32" y2="630.35" stroke="#4d4d4d" stroke-width="0.95"/>
<line x1="514.94" y1="627.85" x2="514.94" y2="630.35" stroke="#4d4d4d" stroke-width="0.95"/>
<line x1="535.56" y1="627.85" x2="535.56" y2="630.35" stroke="#4d4d4d" stroke-width="0.95"/>
<line x1="556.18" y1="627.85" x2="556.18" y2="630.35" stroke="#4d4d4d" stroke-width="0.95"/>
<line x1="576.80" y1="627.85" x2="576.80" y2="630.35" stroke="#4d4d4d" stroke-width="0.95"/>
<line x1="597.42" y1="627.85" x2="597.42" y2="630.35" stroke="#4d4d4d" stroke-width="0.95"/>
<line x1="618.04" y1="627.85" x2="618.04" y2="630.35" stroke="#4d4d4d" stroke-width="0.95"/>
<line x1="638.66" y1="627.85" x2="638.66" y2="630.35" stroke="#4d4d4d" stroke-width="0.95"/>
<text transform="translate(484.61,641.65) scale(0.82,1)" text-anchor="middle" font-size="13.6" stroke="#2b2b2b" stroke-width="0.18" fill="#2b2b2b">0.0</text>
<text transform="translate(525.85,641.65) scale(0.82,1)" text-anchor="middle" font-size="13.6" stroke="#2b2b2b" stroke-width="0.18" fill="#2b2b2b">0.2</text>
<text transform="translate(567.09,641.65) scale(0.82,1)" text-anchor="middle" font-size="13.6" stroke="#2b2b2b" stroke-width="0.18" fill="#2b2b2b">0.4</text>
<text transform="translate(608.33,641.65) scale(0.82,1)" text-anchor="middle" font-size="13.6" stroke="#2b2b2b" stroke-width="0.18" fill="#2b2b2b">0.6</text>
<text transform="translate(634.00,561.45) scale(0.82,1)" text-anchor="end" font-size="13.6" stroke="#2b2b2b" stroke-width="0.18" fill="#2b2b2b">Pers-15</text>
<text transform="translate(634.00,577.20) scale(0.82,1)" text-anchor="end" font-size="13.6" stroke="#2b2b2b" stroke-width="0.18" fill="#2b2b2b">nD=8</text>
<text transform="translate(634.00,593.20) scale(0.82,1)" text-anchor="end" font-size="13.6" stroke="#2b2b2b" stroke-width="0.18" fill="#2b2b2b">nN=18</text>
</g>
<g>
<rect x="477.40" y="671.20" width="5.60" height="68.10" fill="#1f7a3c" stroke="#0b3f1f" stroke-width="0.9"/>
<rect x="498.02" y="716.80" width="5.60" height="22.50" fill="#1f7a3c" stroke="#0b3f1f" stroke-width="0.9"/>
<rect x="486.10" y="716.80" width="5.60" height="22.50" fill="#fdf05f" stroke="#7a7030" stroke-width="0.9"/>
<rect x="506.72" y="724.40" width="5.60" height="14.90" fill="#fdf05f" stroke="#7a7030" stroke-width="0.9"/>
<rect x="527.34" y="732.00" width="5.60" height="7.30" fill="#fdf05f" stroke="#7a7030" stroke-width="0.9"/>
<rect x="547.96" y="732.00" width="5.60" height="7.30" fill="#fdf05f" stroke="#7a7030" stroke-width="0.9"/>
<rect x="568.58" y="732.00" width="5.60" height="7.30" fill="#fdf05f" stroke="#7a7030" stroke-width="0.9"/>
<rect x="589.20" y="732.00" width="5.60" height="7.30" fill="#fdf05f" stroke="#7a7030" stroke-width="0.9"/>
<line x1="473.90" y1="663.30" x2="473.90" y2="739.75" stroke="#4d4d4d" stroke-width="0.9"/>
<line x1="473.45" y1="739.30" x2="638.86" y2="739.30" stroke="#4d4d4d" stroke-width="0.9"/>
<line x1="471.40" y1="739.30" x2="476.30" y2="739.30" stroke="#4d4d4d" stroke-width="0.9"/>
<text transform="translate(468.30,741.55) scale(0.82,1)" text-anchor="end" font-size="13.6" stroke="#2b2b2b" stroke-width="0.18" fill="#2b2b2b">0</text>
<line x1="472.00" y1="731.70" x2="473.90" y2="731.70" stroke="#4d4d4d" stroke-width="0.95"/>
<line x1="472.00" y1="724.10" x2="473.90" y2="724.10" stroke="#4d4d4d" stroke-width="0.95"/>
<line x1="472.00" y1="716.50" x2="473.90" y2="716.50" stroke="#4d4d4d" stroke-width="0.95"/>
<line x1="472.00" y1="708.90" x2="473.90" y2="708.90" stroke="#4d4d4d" stroke-width="0.95"/>
<line x1="471.40" y1="701.30" x2="476.30" y2="701.30" stroke="#4d4d4d" stroke-width="0.9"/>
<text transform="translate(468.30,704.15) scale(0.82,1)" text-anchor="end" font-size="13.6" stroke="#2b2b2b" stroke-width="0.18" fill="#2b2b2b">5</text>
<line x1="472.00" y1="693.70" x2="473.90" y2="693.70" stroke="#4d4d4d" stroke-width="0.95"/>
<line x1="472.00" y1="686.10" x2="473.90" y2="686.10" stroke="#4d4d4d" stroke-width="0.95"/>
<line x1="472.00" y1="678.50" x2="473.90" y2="678.50" stroke="#4d4d4d" stroke-width="0.95"/>
<line x1="472.00" y1="670.90" x2="473.90" y2="670.90" stroke="#4d4d4d" stroke-width="0.95"/>
<line x1="471.40" y1="663.30" x2="476.30" y2="663.30" stroke="#4d4d4d" stroke-width="0.9"/>
<text transform="translate(468.30,666.75) scale(0.82,1)" text-anchor="end" font-size="13.6" stroke="#2b2b2b" stroke-width="0.18" fill="#2b2b2b">10</text>
<line x1="473.90" y1="739.30" x2="473.90" y2="741.80" stroke="#4d4d4d" stroke-width="0.95"/>
<line x1="494.52" y1="739.30" x2="494.52" y2="741.80" stroke="#4d4d4d" stroke-width="0.95"/>
<line x1="515.14" y1="739.30" x2="515.14" y2="741.80" stroke="#4d4d4d" stroke-width="0.95"/>
<line x1="535.76" y1="739.30" x2="535.76" y2="741.80" stroke="#4d4d4d" stroke-width="0.95"/>
<line x1="556.38" y1="739.30" x2="556.38" y2="741.80" stroke="#4d4d4d" stroke-width="0.95"/>
<line x1="577.00" y1="739.30" x2="577.00" y2="741.80" stroke="#4d4d4d" stroke-width="0.95"/>
<line x1="597.62" y1="739.30" x2="597.62" y2="741.80" stroke="#4d4d4d" stroke-width="0.95"/>
<line x1="618.24" y1="739.30" x2="618.24" y2="741.80" stroke="#4d4d4d" stroke-width="0.95"/>
<line x1="638.86" y1="739.30" x2="638.86" y2="741.80" stroke="#4d4d4d" stroke-width="0.95"/>
<text transform="translate(484.81,752.40) scale(0.82,1)" text-anchor="middle" font-size="13.6" stroke="#2b2b2b" stroke-width="0.18" fill="#2b2b2b">0.0</text>
<text transform="translate(526.05,752.40) scale(0.82,1)" text-anchor="middle" font-size="13.6" stroke="#2b2b2b" stroke-width="0.18" fill="#2b2b2b">0.2</text>
<text transform="translate(567.29,752.40) scale(0.82,1)" text-anchor="middle" font-size="13.6" stroke="#2b2b2b" stroke-width="0.18" fill="#2b2b2b">0.4</text>
<text transform="translate(608.53,752.40) scale(0.82,1)" text-anchor="middle" font-size="13.6" stroke="#2b2b2b" stroke-width="0.18" fill="#2b2b2b">0.6</text>
<text transform="translate(634.00,675.70) scale(0.82,1)" text-anchor="end" font-size="13.6" stroke="#2b2b2b" stroke-width="0.18" fill="#2b2b2b">Pers-14</text>
<text transform="translate(634.00,691.95) scale(0.82,1)" text-anchor="end" font-size="13.6" stroke="#2b2b2b" stroke-width="0.18" fill="#2b2b2b">nD=12</text>
<text transform="translate(634.00,707.70) scale(0.82,1)" text-anchor="end" font-size="13.6" stroke="#2b2b2b" stroke-width="0.18" fill="#2b2b2b">nN=9</text>
</g>
<g>
<rect x="477.20" y="802.24" width="5.60" height="52.76" fill="#1f7a3c" stroke="#0b3f1f" stroke-width="0.9"/>
<rect x="497.82" y="817.40" width="5.60" height="37.60" fill="#1f7a3c" stroke="#0b3f1f" stroke-width="0.9"/>
<rect x="518.44" y="832.56" width="5.60" height="22.44" fill="#1f7a3c" stroke="#0b3f1f" stroke-width="0.9"/>
<rect x="485.90" y="817.40" width="5.60" height="37.60" fill="#fdf05f" stroke="#7a7030" stroke-width="0.9"/>
<rect x="527.14" y="840.14" width="5.60" height="14.86" fill="#fdf05f" stroke="#7a7030" stroke-width="0.9"/>
<rect x="547.76" y="847.72" width="5.60" height="7.28" fill="#fdf05f" stroke="#7a7030" stroke-width="0.9"/>
<rect x="568.38" y="847.72" width="5.60" height="7.28" fill="#fdf05f" stroke="#7a7030" stroke-width="0.9"/>
<line x1="473.70" y1="779.20" x2="473.70" y2="855.45" stroke="#4d4d4d" stroke-width="0.9"/>
<line x1="473.25" y1="855.00" x2="638.66" y2="855.00" stroke="#4d4d4d" stroke-width="0.9"/>
<line x1="471.20" y1="855.00" x2="476.10" y2="855.00" stroke="#4d4d4d" stroke-width="0.9"/>
<text transform="translate(467.70,858.55) scale(0.82,1)" text-anchor="end" font-size="13.6" stroke="#2b2b2b" stroke-width="0.18" fill="#2b2b2b">0</text>
<line x1="471.80" y1="847.42" x2="473.70" y2="847.42" stroke="#4d4d4d" stroke-width="0.95"/>
<line x1="471.80" y1="839.84" x2="473.70" y2="839.84" stroke="#4d4d4d" stroke-width="0.95"/>
<line x1="471.80" y1="832.26" x2="473.70" y2="832.26" stroke="#4d4d4d" stroke-width="0.95"/>
<line x1="471.80" y1="824.68" x2="473.70" y2="824.68" stroke="#4d4d4d" stroke-width="0.95"/>
<line x1="471.20" y1="817.10" x2="476.10" y2="817.10" stroke="#4d4d4d" stroke-width="0.9"/>
<text transform="translate(467.70,820.95) scale(0.82,1)" text-anchor="end" font-size="13.6" stroke="#2b2b2b" stroke-width="0.18" fill="#2b2b2b">5</text>
<line x1="471.80" y1="809.52" x2="473.70" y2="809.52" stroke="#4d4d4d" stroke-width="0.95"/>
<line x1="471.80" y1="801.94" x2="473.70" y2="801.94" stroke="#4d4d4d" stroke-width="0.95"/>
<line x1="471.80" y1="794.36" x2="473.70" y2="794.36" stroke="#4d4d4d" stroke-width="0.95"/>
<line x1="471.80" y1="786.78" x2="473.70" y2="786.78" stroke="#4d4d4d" stroke-width="0.95"/>
<line x1="471.20" y1="779.20" x2="476.10" y2="779.20" stroke="#4d4d4d" stroke-width="0.9"/>
<text transform="translate(467.70,783.35) scale(0.82,1)" text-anchor="end" font-size="13.6" stroke="#2b2b2b" stroke-width="0.18" fill="#2b2b2b">10</text>
<line x1="473.70" y1="855.00" x2="473.70" y2="857.50" stroke="#4d4d4d" stroke-width="0.95"/>
<line x1="494.32" y1="855.00" x2="494.32" y2="857.50" stroke="#4d4d4d" stroke-width="0.95"/>
<line x1="514.94" y1="855.00" x2="514.94" y2="857.50" stroke="#4d4d4d" stroke-width="0.95"/>
<line x1="535.56" y1="855.00" x2="535.56" y2="857.50" stroke="#4d4d4d" stroke-width="0.95"/>
<line x1="556.18" y1="855.00" x2="556.18" y2="857.50" stroke="#4d4d4d" stroke-width="0.95"/>
<line x1="576.80" y1="855.00" x2="576.80" y2="857.50" stroke="#4d4d4d" stroke-width="0.95"/>
<line x1="597.42" y1="855.00" x2="597.42" y2="857.50" stroke="#4d4d4d" stroke-width="0.95"/>
<line x1="618.04" y1="855.00" x2="618.04" y2="857.50" stroke="#4d4d4d" stroke-width="0.95"/>
<line x1="638.66" y1="855.00" x2="638.66" y2="857.50" stroke="#4d4d4d" stroke-width="0.95"/>
<text transform="translate(484.61,868.80) scale(0.82,1)" text-anchor="middle" font-size="13.6" stroke="#2b2b2b" stroke-width="0.18" fill="#2b2b2b">0.0</text>
<text transform="translate(525.85,868.80) scale(0.82,1)" text-anchor="middle" font-size="13.6" stroke="#2b2b2b" stroke-width="0.18" fill="#2b2b2b">0.2</text>
<text transform="translate(567.09,868.80) scale(0.82,1)" text-anchor="middle" font-size="13.6" stroke="#2b2b2b" stroke-width="0.18" fill="#2b2b2b">0.4</text>
<text transform="translate(608.33,868.80) scale(0.82,1)" text-anchor="middle" font-size="13.6" stroke="#2b2b2b" stroke-width="0.18" fill="#2b2b2b">0.6</text>
<text transform="translate(633.00,792.80) scale(0.82,1)" text-anchor="end" font-size="13.6" stroke="#2b2b2b" stroke-width="0.18" fill="#2b2b2b">Extra-13</text>
<text transform="translate(633.00,808.70) scale(0.82,1)" text-anchor="end" font-size="13.6" stroke="#2b2b2b" stroke-width="0.18" fill="#2b2b2b">nD=15</text>
<text transform="translate(633.00,824.50) scale(0.82,1)" text-anchor="end" font-size="13.6" stroke="#2b2b2b" stroke-width="0.18" fill="#2b2b2b">nN=9</text>
</g>
<text transform="translate(124.75,250.00) scale(0.84,1)" text-anchor="middle" font-size="16" font-weight="bold" stroke="#1a1a1a" stroke-width="0.3" fill="#1a1a1a">Species Prevalence</text>
<text transform="translate(346.60,464.50) scale(0.84,1)" text-anchor="middle" font-size="16" font-weight="bold" stroke="#1a1a1a" stroke-width="0.3" fill="#1a1a1a">Species Prevalence</text>
<text transform="translate(555.50,125.60) scale(0.84,1)" text-anchor="middle" font-size="16" font-weight="bold" stroke="#1a1a1a" stroke-width="0.3" fill="#1a1a1a">Species Prevalence</text>
<text transform="translate(83.40,62.80) rotate(-90) scale(0.8,1)" text-anchor="middle" font-size="16.7" font-weight="bold" stroke="#1a1a1a" stroke-width="0.3" fill="#1a1a1a">Frequency</text>
<ellipse cx="351.1" cy="18.7" rx="28.2" ry="18.5" fill="#fff" stroke="#26262c" stroke-width="1"/>
<text transform="translate(351.60,22.70) scale(0.818,1)" text-anchor="middle" font-size="16" font-weight="bold" stroke="#111" stroke-width="0.3" fill="#111">LOME1</text>
<ellipse cx="120.4" cy="504" rx="28.3" ry="18" fill="#fff" stroke="#26262c" stroke-width="1"/>
<text transform="translate(120.60,507.90) scale(0.818,1)" text-anchor="middle" font-size="16" font-weight="bold" stroke="#111" stroke-width="0.3" fill="#111">LOME1</text>
<ellipse cx="555.1" cy="548.5" rx="31" ry="16.4" fill="#fff" stroke="#26262c" stroke-width="1"/>
<text transform="translate(555.50,552.20) scale(0.83,1)" text-anchor="middle" font-size="16" font-weight="bold" stroke="#111" stroke-width="0.3" fill="#111">LOME2</text>
<ellipse cx="409.1" cy="351.9" rx="23.3" ry="13.2" fill="#fcea1f" stroke="#26262c" stroke-width="1.4"/>
<text transform="translate(409.90,356.80) scale(0.83,1)" text-anchor="middle" font-size="16" font-weight="bold" stroke="#111" stroke-width="0.3" fill="#111">NiN</text>
</g>
</svg>
</body></html>
